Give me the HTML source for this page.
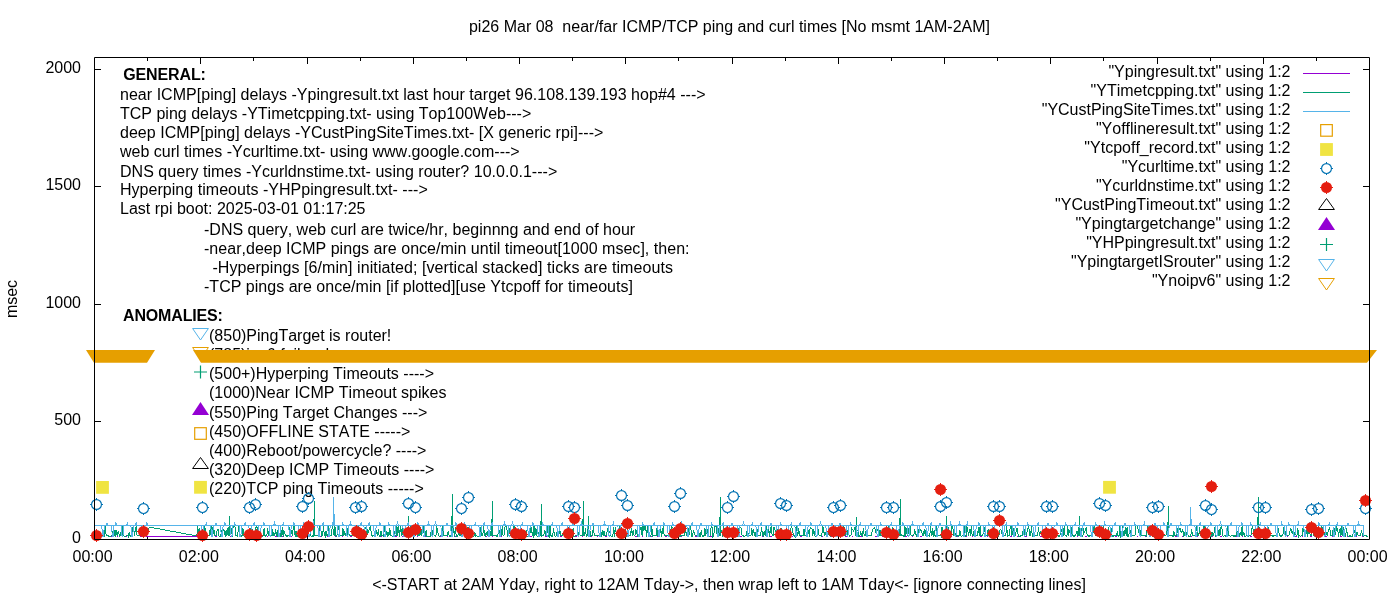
<!DOCTYPE html><html><head><meta charset="utf-8"><style>html,body{margin:0;padding:0;background:#fff;width:1400px;height:600px;overflow:hidden}svg{display:block;will-change:transform}text{font-family:"Liberation Sans",sans-serif;font-size:16px;font-kerning:none}</style></head><body>
<svg width="1400" height="600" viewBox="0 0 1400 600">
<rect width="1400" height="600" fill="#fff"/>
<g fill="#000">
<text x="729.5" y="32" text-anchor="middle" xml:space="preserve">pi26 Mar 08  near/far ICMP/TCP ping and curl times [No msmt 1AM-2AM]</text>
<text x="729" y="590" text-anchor="middle">&lt;-START at 2AM Yday, right to 12AM Tday-&gt;, then wrap left to 1AM Tday&lt;- [ignore connecting lines]</text>
<text transform="translate(16.5,299) rotate(-90)" text-anchor="middle">msec</text>
<text x="81" y="72.5" text-anchor="end">2000</text>
<text x="81" y="189.5" text-anchor="end">1500</text>
<text x="81" y="307.5" text-anchor="end">1000</text>
<text x="81" y="424.5" text-anchor="end">500</text>
<text x="81" y="542.5" text-anchor="end">0</text>
<text x="92.6" y="561.5" text-anchor="middle">00:00</text>
<text x="198.8" y="561.5" text-anchor="middle">02:00</text>
<text x="305.1" y="561.5" text-anchor="middle">04:00</text>
<text x="411.4" y="561.5" text-anchor="middle">06:00</text>
<text x="517.6" y="561.5" text-anchor="middle">08:00</text>
<text x="623.9" y="561.5" text-anchor="middle">10:00</text>
<text x="730.1" y="561.5" text-anchor="middle">12:00</text>
<text x="836.4" y="561.5" text-anchor="middle">14:00</text>
<text x="942.6" y="561.5" text-anchor="middle">16:00</text>
<text x="1048.8" y="561.5" text-anchor="middle">18:00</text>
<text x="1155.1" y="561.5" text-anchor="middle">20:00</text>
<text x="1261.3" y="561.5" text-anchor="middle">22:00</text>
<text x="1367.6" y="561.5" text-anchor="middle">00:00</text>
<text x="123.2" y="80" font-weight="bold" letter-spacing="-0.12">GENERAL:</text>
<text x="120" y="99.5" letter-spacing="0.033">near ICMP[ping] delays -Ypingresult.txt last hour target 96.108.139.193 hop#4 ---&gt;</text>
<text x="120" y="118.5">TCP ping delays -YTimetcpping.txt- using Top100Web---&gt;</text>
<text x="120" y="137.5" letter-spacing="0.028">deep ICMP[ping] delays -YCustPingSiteTimes.txt- [X generic rpi]---&gt;</text>
<text x="120" y="156.5">web curl times -Ycurltime.txt- using www.google.com---&gt;</text>
<text x="120" y="176.5" letter-spacing="0.033">DNS query times -Ycurldnstime.txt- using router? 10.0.0.1---&gt;</text>
<text x="120" y="195" letter-spacing="0.034">Hyperping timeouts -YHPpingresult.txt- ---&gt;</text>
<text x="120" y="214">Last rpi boot: 2025-03-01 01:17:25</text>
<text x="204" y="234.5" letter-spacing="0.012">-DNS query, web curl are twice/hr, beginnng and end of hour</text>
<text x="204" y="253.5" letter-spacing="0.026">-near,deep ICMP pings are once/min until timeout[1000 msec], then:</text>
<text x="212.4" y="272.5" letter-spacing="0.078">-Hyperpings [6/min] initiated; [vertical stacked] ticks are timeouts</text>
<text x="204" y="291.5" letter-spacing="0.02">-TCP pings are once/min [if plotted][use Ytcpoff for timeouts]</text>
<text x="123" y="321" font-weight="bold" letter-spacing="-0.16">ANOMALIES:</text>
<clipPath id="c785"><rect x="190" y="340" width="300" height="12"/></clipPath>
<text x="209" y="340.5">(850)PingTarget is router!</text>
<g clip-path="url(#c785)"><text x="209" y="359.5">(785)ipv6 fail</text><text x="320.2" y="359.5">d</text></g>
<text x="209" y="378.5">(500+)Hyperping Timeouts ----&gt;</text>
<text x="209" y="397.5">(1000)Near ICMP Timeout spikes</text>
<text x="209" y="418">(550)Ping Target Changes ---&gt;</text>
<text x="209" y="437">(450)OFFLINE STATE -----&gt;</text>
<text x="209" y="456">(400)Reboot/powercycle? ----&gt;</text>
<text x="209" y="475">(320)Deep ICMP Timeouts ----&gt;</text>
<text x="209" y="494">(220)TCP ping Timeouts -----&gt;</text>
<text x="1290.5" y="76.5" text-anchor="end">"Ypingresult.txt" using 1:2</text>
<text x="1290.5" y="95.5" text-anchor="end">"YTimetcpping.txt" using 1:2</text>
<text x="1290.5" y="114.5" text-anchor="end">"YCustPingSiteTimes.txt" using 1:2</text>
<text x="1290.5" y="133.5" text-anchor="end">"Yofflineresult.txt" using 1:2</text>
<text x="1290.5" y="152.5" text-anchor="end">"Ytcpoff_record.txt" using 1:2</text>
<text x="1290.5" y="171.5" text-anchor="end">"Ycurltime.txt" using 1:2</text>
<text x="1290.5" y="190.5" text-anchor="end">"Ycurldnstime.txt" using 1:2</text>
<text x="1290.5" y="209.5" text-anchor="end">"YCustPingTimeout.txt" using 1:2</text>
<text x="1290.5" y="228.5" text-anchor="end">"Ypingtargetchange" using 1:2</text>
<text x="1290.5" y="247.5" text-anchor="end">"YHPpingresult.txt" using 1:2</text>
<text x="1290.5" y="266.5" text-anchor="end">"YpingtargetISrouter" using 1:2</text>
<text x="1290.5" y="285.5" text-anchor="end">"Ynoipv6" using 1:2</text>
</g>
<path d="M94.5,69.5h6.5M1369.5,69.5h-6.5M94.5,186.5h6.5M1369.5,186.5h-6.5M94.5,304.5h6.5M1369.5,304.5h-6.5M94.5,421.5h6.5M1369.5,421.5h-6.5M147.5,539.5v-3.5M147.5,57.5v3.5M200.5,539.5v-6.5M200.5,57.5v6.5M253.5,539.5v-3.5M253.5,57.5v3.5M307.5,539.5v-6.5M307.5,57.5v6.5M360.5,539.5v-3.5M360.5,57.5v3.5M413.5,539.5v-6.5M413.5,57.5v6.5M466.5,539.5v-3.5M466.5,57.5v3.5M519.5,539.5v-6.5M519.5,57.5v6.5M572.5,539.5v-3.5M572.5,57.5v3.5M625.5,539.5v-6.5M625.5,57.5v6.5M678.5,539.5v-3.5M678.5,57.5v3.5M732.5,539.5v-6.5M732.5,57.5v6.5M785.5,539.5v-3.5M785.5,57.5v3.5M838.5,539.5v-6.5M838.5,57.5v6.5M891.5,539.5v-3.5M891.5,57.5v3.5M944.5,539.5v-6.5M944.5,57.5v6.5M997.5,539.5v-3.5M997.5,57.5v3.5M1050.5,539.5v-6.5M1050.5,57.5v6.5M1103.5,539.5v-3.5M1103.5,57.5v3.5M1157.5,539.5v-6.5M1157.5,57.5v6.5M1210.5,539.5v-3.5M1210.5,57.5v3.5M1263.5,539.5v-6.5M1263.5,57.5v6.5M1316.5,539.5v-3.5M1316.5,57.5v3.5" fill="none" stroke="#000" stroke-width="1"/>
<path d="M95.00,536.5 L95.89,536.5 L96.77,536.5 L97.66,536.5 L98.54,536.5 L99.43,536.5 L100.31,536.5 L101.20,536.5 L102.08,536.5 L102.97,536.5 L103.85,536.5 L104.74,536.5 L105.62,536.5 L106.51,536.5 L107.39,536.5 L108.28,536.5 L109.16,536.5 L110.05,536.5 L110.93,536.5 L111.82,536.5 L112.70,536.5 L113.59,536.5 L114.47,536.5 L115.36,536.5 L116.24,536.5 L117.13,536.5 L118.01,536.5 L118.90,536.5 L119.78,536.5 L120.67,536.5 L121.55,536.5 L122.44,536.5 L123.32,536.5 L124.21,536.5 L125.09,536.5 L125.98,536.5 L126.86,536.5 L127.75,536.5 L128.63,536.5 L129.52,536.5 L130.40,536.5 L131.29,536.5 L132.17,536.5 L133.06,536.5 L133.94,536.5 L134.83,536.5 L135.71,536.5 L136.60,536.5 L137.48,536.5 L138.37,536.5 L139.25,536.5 L140.14,536.5 L141.02,536.5 L141.91,536.5 L142.79,536.5 L143.68,536.5 L144.56,536.5 L145.45,536.5 L146.33,536.5 L147.22,536.5 L148.10,536.5 L148.12,536.5 L199.25,536.5 L200.13,536.5 L201.02,536.5 L201.90,536.5 L202.79,536.5 L203.67,536.5 L204.56,536.5 L205.44,536.5 L206.33,536.5 L207.21,536.5 L208.10,536.5 L208.98,536.5 L209.87,536.5 L210.75,536.5 L211.64,536.5 L212.52,536.5 L213.41,536.5 L214.29,536.5 L215.18,536.5 L216.06,536.5 L216.95,536.5 L217.83,536.5 L218.72,536.5 L219.60,536.5 L220.49,536.5 L221.37,536.5 L222.26,536.5 L223.14,536.5 L224.03,536.5 L224.91,536.5 L225.80,536.5 L226.68,536.5 L227.57,536.5 L228.45,536.5 L229.34,536.5 L230.22,536.5 L231.11,536.5 L231.99,536.5 L232.88,536.5 L233.76,536.5 L234.65,536.5 L235.53,536.5 L236.42,536.5 L237.30,536.5 L238.19,536.5 L239.07,536.5 L239.96,536.5 L240.84,536.5 L241.73,536.5 L242.61,536.5 L243.50,536.5 L244.38,536.5 L245.27,536.5 L246.15,536.5 L247.04,536.5 L247.92,536.5 L248.81,536.5 L249.69,536.5 L250.58,536.5 L251.46,536.5 L252.35,536.5 L253.23,536.5 L254.12,536.5 L255.00,536.5 L255.89,536.5 L256.77,536.5 L257.66,536.5 L258.54,536.5 L259.43,536.5 L260.31,536.5 L261.20,536.5 L262.08,536.5 L262.97,536.5 L263.85,536.5 L264.74,536.5 L265.62,536.5 L266.51,536.5 L267.39,536.5 L268.28,536.5 L269.16,536.5 L270.05,536.5 L270.93,536.5 L271.82,536.5 L272.70,536.5 L273.59,536.5 L274.47,536.5 L275.36,536.5 L276.24,536.5 L277.13,536.5 L278.01,536.5 L278.90,536.5 L279.78,536.5 L280.67,536.5 L281.55,536.5 L282.44,536.5 L283.32,536.5 L284.21,536.5 L285.09,536.5 L285.98,536.5 L286.86,536.5 L287.75,536.5 L288.63,536.5 L289.52,536.5 L290.40,536.5 L291.29,536.5 L292.17,536.5 L293.06,536.5 L293.94,536.5 L294.83,536.5 L295.71,536.5 L296.60,536.5 L297.48,536.5 L298.37,536.5 L299.25,536.5 L300.14,536.5 L301.02,536.5 L301.91,536.5 L302.79,536.5 L303.68,536.5 L304.56,536.5 L305.45,536.5 L306.33,536.5 L307.22,536.5 L308.10,536.5 L308.99,536.5 L309.87,536.5 L310.76,536.5 L311.64,536.5 L312.53,536.5 L313.41,536.5 L314.30,536.5 L315.18,536.5 L316.07,536.5 L316.95,536.5 L317.84,536.5 L318.72,536.5 L319.61,536.5 L320.49,536.5 L321.38,536.5 L322.26,536.5 L323.15,536.5 L324.03,536.5 L324.92,536.5 L325.80,536.5 L326.69,536.5 L327.57,536.5 L328.46,536.5 L329.34,536.5 L330.23,536.5 L331.11,536.5 L332.00,536.5 L332.88,536.5 L333.77,536.5 L334.65,536.5 L335.54,536.5 L336.42,536.5 L337.31,536.5 L338.19,536.5 L339.08,536.5 L339.96,536.5 L340.85,536.5 L341.73,536.5 L342.62,536.5 L343.50,536.5 L344.39,536.5 L345.27,536.5 L346.16,536.5 L347.04,536.5 L347.93,536.5 L348.81,536.5 L349.70,536.5 L350.58,536.5 L351.47,536.5 L352.35,536.5 L353.24,536.5 L354.12,536.5 L355.01,536.5 L355.89,536.5 L356.78,536.5 L357.66,536.5 L358.55,536.5 L359.43,536.5 L360.32,536.5 L361.20,536.5 L362.09,536.5 L362.97,536.5 L363.86,536.5 L364.74,536.5 L365.63,536.5 L366.51,536.5 L367.40,536.5 L368.28,536.5 L369.17,536.5 L370.05,536.5 L370.94,536.5 L371.82,536.5 L372.71,536.5 L373.59,536.5 L374.48,536.5 L375.36,536.5 L376.25,536.5 L377.13,536.5 L378.02,536.5 L378.90,536.5 L379.79,536.5 L380.67,536.5 L381.56,536.5 L382.44,536.5 L383.33,536.5 L384.21,536.5 L385.10,536.5 L385.98,536.5 L386.87,536.5 L387.75,536.5 L388.64,536.5 L389.52,536.5 L390.41,536.5 L391.29,536.5 L392.18,536.5 L393.06,536.5 L393.95,536.5 L394.83,536.5 L395.72,536.5 L396.60,536.5 L397.49,536.5 L398.37,536.5 L399.26,536.5 L400.14,536.5 L401.03,536.5 L401.91,536.5 L402.80,536.5 L403.68,536.5 L404.57,536.5 L405.45,536.5 L406.34,536.5 L407.22,536.5 L408.11,536.5 L408.99,536.5 L409.88,536.5 L410.76,536.5 L411.65,536.5 L412.53,536.5 L413.42,536.5 L414.30,536.5 L415.19,536.5 L416.07,536.5 L416.96,536.5 L417.84,536.5 L418.73,536.5 L419.61,536.5 L420.50,536.5 L421.38,536.5 L422.27,536.5 L423.15,536.5 L424.04,536.5 L424.92,536.5 L425.81,536.5 L426.69,536.5 L427.58,536.5 L428.46,536.5 L429.35,536.5 L430.23,536.5 L431.12,536.5 L432.00,536.5 L432.89,536.5 L433.77,536.5 L434.66,536.5 L435.54,536.5 L436.43,536.5 L437.31,536.5 L438.20,536.5 L439.08,536.5 L439.97,536.5 L440.85,536.5 L441.74,536.5 L442.62,536.5 L443.51,536.5 L444.39,536.5 L445.28,536.5 L446.16,536.5 L447.05,536.5 L447.93,536.5 L448.82,536.5 L449.70,536.5 L450.59,536.5 L451.47,536.5 L452.36,536.5 L453.24,536.5 L454.13,536.5 L455.01,536.5 L455.90,536.5 L456.78,536.5 L457.67,536.5 L458.55,536.5 L459.44,536.5 L460.32,536.5 L461.21,536.5 L462.09,536.5 L462.98,536.5 L463.86,536.5 L464.75,536.5 L465.63,536.5 L466.52,536.5 L467.40,536.5 L468.29,536.5 L469.17,536.5 L470.06,536.5 L470.94,536.5 L471.83,536.5 L472.71,536.5 L473.60,536.5 L474.48,536.5 L475.37,536.5 L476.25,536.5 L477.14,536.5 L478.02,536.5 L478.91,536.5 L479.79,536.5 L480.68,536.5 L481.56,536.5 L482.45,536.5 L483.33,536.5 L484.22,536.5 L485.10,536.5 L485.99,536.5 L486.87,536.5 L487.76,536.5 L488.64,536.5 L489.53,536.5 L490.41,536.5 L491.30,536.5 L492.18,536.5 L493.07,536.5 L493.95,536.5 L494.84,536.5 L495.72,536.5 L496.61,536.5 L497.49,536.5 L498.38,536.5 L499.26,536.5 L500.15,536.5 L501.03,536.5 L501.92,536.5 L502.80,536.5 L503.69,536.5 L504.57,536.5 L505.46,536.5 L506.34,536.5 L507.23,536.5 L508.11,536.5 L509.00,536.5 L509.88,536.5 L510.77,536.5 L511.65,536.5 L512.54,536.5 L513.42,536.5 L514.31,536.5 L515.19,536.5 L516.08,536.5 L516.96,536.5 L517.85,536.5 L518.73,536.5 L519.62,536.5 L520.50,536.5 L521.39,536.5 L522.27,536.5 L523.16,536.5 L524.04,536.5 L524.93,536.5 L525.81,536.5 L526.70,536.5 L527.58,536.5 L528.47,536.5 L529.35,536.5 L530.24,536.5 L531.12,536.5 L532.01,536.5 L532.89,536.5 L533.78,536.5 L534.66,536.5 L535.55,536.5 L536.43,536.5 L537.32,536.5 L538.20,536.5 L539.09,536.5 L539.97,536.5 L540.86,536.5 L541.74,536.5 L542.63,536.5 L543.51,536.5 L544.40,536.5 L545.28,536.5 L546.17,536.5 L547.05,536.5 L547.94,536.5 L548.82,536.5 L549.71,536.5 L550.59,536.5 L551.48,536.5 L552.36,536.5 L553.25,536.5 L554.13,536.5 L555.02,536.5 L555.90,536.5 L556.79,536.5 L557.67,536.5 L558.56,536.5 L559.44,536.5 L560.33,536.5 L561.21,536.5 L562.10,536.5 L562.98,536.5 L563.87,536.5 L564.75,536.5 L565.64,536.5 L566.52,536.5 L567.41,536.5 L568.29,536.5 L569.18,536.5 L570.06,536.5 L570.95,536.5 L571.83,536.5 L572.72,536.5 L573.60,536.5 L574.49,536.5 L575.37,536.5 L576.26,536.5 L577.14,536.5 L578.03,536.5 L578.91,536.5 L579.80,536.5 L580.68,536.5 L581.57,536.5 L582.45,536.5 L583.34,536.5 L584.22,536.5 L585.11,536.5 L585.99,536.5 L586.88,536.5 L587.76,536.5 L588.65,536.5 L589.53,536.5 L590.42,536.5 L591.30,536.5 L592.19,536.5 L593.07,536.5 L593.96,536.5 L594.84,536.5 L595.73,536.5 L596.61,536.5 L597.50,536.5 L598.38,536.5 L599.27,536.5 L600.15,536.5 L601.04,536.5 L601.92,536.5 L602.81,536.5 L603.69,536.5 L604.58,536.5 L605.46,536.5 L606.35,536.5 L607.23,536.5 L608.12,536.5 L609.00,536.5 L609.89,536.5 L610.77,536.5 L611.66,536.5 L612.54,536.5 L613.43,536.5 L614.31,536.5 L615.20,536.5 L616.08,536.5 L616.97,536.5 L617.85,536.5 L618.74,536.5 L619.62,536.5 L620.51,536.5 L621.39,536.5 L622.28,536.5 L623.16,536.5 L624.05,536.5 L624.93,536.5 L625.82,536.5 L626.70,536.5 L627.59,536.5 L628.47,536.5 L629.36,536.5 L630.24,536.5 L631.13,536.5 L632.01,536.5 L632.90,536.5 L633.78,536.5 L634.67,536.5 L635.55,536.5 L636.44,536.5 L637.32,536.5 L638.21,536.5 L639.09,536.5 L639.98,536.5 L640.86,536.5 L641.75,536.5 L642.63,536.5 L643.52,536.5 L644.40,536.5 L645.29,536.5 L646.17,536.5 L647.06,536.5 L647.94,536.5 L648.83,536.5 L649.71,536.5 L650.60,536.5 L651.48,536.5 L652.37,536.5 L653.25,536.5 L654.14,536.5 L655.02,536.5 L655.91,536.5 L656.79,536.5 L657.68,536.5 L658.56,536.5 L659.45,536.5 L660.33,536.5 L661.22,536.5 L662.10,536.5 L662.99,536.5 L663.87,536.5 L664.76,536.5 L665.64,536.5 L666.53,536.5 L667.41,536.5 L668.30,536.5 L669.18,536.5 L670.07,536.5 L670.95,536.5 L671.84,536.5 L672.72,536.5 L673.61,536.5 L674.49,536.5 L675.38,536.5 L676.26,536.5 L677.15,536.5 L678.03,536.5 L678.92,536.5 L679.80,536.5 L680.69,536.5 L681.57,536.5 L682.46,536.5 L683.34,536.5 L684.23,536.5 L685.11,536.5 L686.00,536.5 L686.88,536.5 L687.77,536.5 L688.65,536.5 L689.54,536.5 L690.42,536.5 L691.31,536.5 L692.19,536.5 L693.08,536.5 L693.96,536.5 L694.85,536.5 L695.73,536.5 L696.62,536.5 L697.50,536.5 L698.39,536.5 L699.27,536.5 L700.16,536.5 L701.04,536.5 L701.93,536.5 L702.81,536.5 L703.70,536.5 L704.58,536.5 L705.47,536.5 L706.35,536.5 L707.24,536.5 L708.12,536.5 L709.01,536.5 L709.89,536.5 L710.78,536.5 L711.66,536.5 L712.55,536.5 L713.43,536.5 L714.32,536.5 L715.20,536.5 L716.09,536.5 L716.97,536.5 L717.86,536.5 L718.74,536.5 L719.63,536.5 L720.51,536.5 L721.40,536.5 L722.28,536.5 L723.17,536.5 L724.05,536.5 L724.94,536.5 L725.82,536.5 L726.71,536.5 L727.59,536.5 L728.48,536.5 L729.36,536.5 L730.25,536.5 L731.13,536.5 L732.02,536.5 L732.90,536.5 L733.79,536.5 L734.67,536.5 L735.56,536.5 L736.44,536.5 L737.33,536.5 L738.21,536.5 L739.10,536.5 L739.98,536.5 L740.87,536.5 L741.75,536.5 L742.64,536.5 L743.52,536.5 L744.41,536.5 L745.29,536.5 L746.18,536.5 L747.06,536.5 L747.95,536.5 L748.83,536.5 L749.72,536.5 L750.60,536.5 L751.49,536.5 L752.37,536.5 L753.26,536.5 L754.14,536.5 L755.03,536.5 L755.91,536.5 L756.80,536.5 L757.68,536.5 L758.57,536.5 L759.45,536.5 L760.34,536.5 L761.22,536.5 L762.11,536.5 L762.99,536.5 L763.88,536.5 L764.76,536.5 L765.65,536.5 L766.53,536.5 L767.42,536.5 L768.30,536.5 L769.19,536.5 L770.07,536.5 L770.96,536.5 L771.84,536.5 L772.73,536.5 L773.61,536.5 L774.50,536.5 L775.38,536.5 L776.27,536.5 L777.15,536.5 L778.04,536.5 L778.92,536.5 L779.81,536.5 L780.69,536.5 L781.58,536.5 L782.46,536.5 L783.35,536.5 L784.23,536.5 L785.12,536.5 L786.00,536.5 L786.89,536.5 L787.77,536.5 L788.66,536.5 L789.54,536.5 L790.43,536.5 L791.31,536.5 L792.20,536.5 L793.08,536.5 L793.97,536.5 L794.85,536.5 L795.74,536.5 L796.62,536.5 L797.51,536.5 L798.39,536.5 L799.28,536.5 L800.16,536.5 L801.05,536.5 L801.93,536.5 L802.82,536.5 L803.70,536.5 L804.59,536.5 L805.47,536.5 L806.36,536.5 L807.24,536.5 L808.13,536.5 L809.01,536.5 L809.90,536.5 L810.78,536.5 L811.67,536.5 L812.55,536.5 L813.44,536.5 L814.32,536.5 L815.21,536.5 L816.09,536.5 L816.98,536.5 L817.86,536.5 L818.75,536.5 L819.63,536.5 L820.52,536.5 L821.40,536.5 L822.29,536.5 L823.17,536.5 L824.06,536.5 L824.94,536.5 L825.83,536.5 L826.71,536.5 L827.60,536.5 L828.48,536.5 L829.37,536.5 L830.25,536.5 L831.14,536.5 L832.02,536.5 L832.91,536.5 L833.79,536.5 L834.68,536.5 L835.56,536.5 L836.45,536.5 L837.33,536.5 L838.22,536.5 L839.10,536.5 L839.99,536.5 L840.87,536.5 L841.76,536.5 L842.64,536.5 L843.53,536.5 L844.41,536.5 L845.30,536.5 L846.18,536.5 L847.07,536.5 L847.95,536.5 L848.84,536.5 L849.72,536.5 L850.61,536.5 L851.49,536.5 L852.38,536.5 L853.26,536.5 L854.15,536.5 L855.03,536.5 L855.92,536.5 L856.80,536.5 L857.69,536.5 L858.57,536.5 L859.46,536.5 L860.34,536.5 L861.23,536.5 L862.11,536.5 L863.00,536.5 L863.88,536.5 L864.77,536.5 L865.65,536.5 L866.54,536.5 L867.42,536.5 L868.31,536.5 L869.19,536.5 L870.08,536.5 L870.96,536.5 L871.85,536.5 L872.73,536.5 L873.62,536.5 L874.50,536.5 L875.39,536.5 L876.27,536.5 L877.16,536.5 L878.04,536.5 L878.93,536.5 L879.81,536.5 L880.70,536.5 L881.58,536.5 L882.47,536.5 L883.35,536.5 L884.24,536.5 L885.12,536.5 L886.01,536.5 L886.89,536.5 L887.78,536.5 L888.66,536.5 L889.55,536.5 L890.43,536.5 L891.32,536.5 L892.20,536.5 L893.09,536.5 L893.97,536.5 L894.86,536.5 L895.74,536.5 L896.63,536.5 L897.51,536.5 L898.40,536.5 L899.28,536.5 L900.17,536.5 L901.05,536.5 L901.94,536.5 L902.82,536.5 L903.71,536.5 L904.59,536.5 L905.48,536.5 L906.36,536.5 L907.25,536.5 L908.13,536.5 L909.02,536.5 L909.90,536.5 L910.79,536.5 L911.67,536.5 L912.56,536.5 L913.44,536.5 L914.33,536.5 L915.21,536.5 L916.10,536.5 L916.98,536.5 L917.87,536.5 L918.75,536.5 L919.64,536.5 L920.52,536.5 L921.41,536.5 L922.29,536.5 L923.18,536.5 L924.06,536.5 L924.95,536.5 L925.83,536.5 L926.72,536.5 L927.60,536.5 L928.49,536.5 L929.37,536.5 L930.26,536.5 L931.14,536.5 L932.03,536.5 L932.91,536.5 L933.80,536.5 L934.68,536.5 L935.57,536.5 L936.45,536.5 L937.34,536.5 L938.22,536.5 L939.11,536.5 L939.99,536.5 L940.88,536.5 L941.76,536.5 L942.65,536.5 L943.53,536.5 L944.42,536.5 L945.30,536.5 L946.19,536.5 L947.07,536.5 L947.96,536.5 L948.84,536.5 L949.73,536.5 L950.61,536.5 L951.50,536.5 L952.38,536.5 L953.27,536.5 L954.15,536.5 L955.04,536.5 L955.92,536.5 L956.81,536.5 L957.69,536.5 L958.58,536.5 L959.46,536.5 L960.35,536.5 L961.23,536.5 L962.12,536.5 L963.00,536.5 L963.89,536.5 L964.77,536.5 L965.66,536.5 L966.54,536.5 L967.43,536.5 L968.31,536.5 L969.20,536.5 L970.08,536.5 L970.97,536.5 L971.85,536.5 L972.74,536.5 L973.62,536.5 L974.51,536.5 L975.39,536.5 L976.28,536.5 L977.16,536.5 L978.05,536.5 L978.93,536.5 L979.82,536.5 L980.70,536.5 L981.59,536.5 L982.47,536.5 L983.36,536.5 L984.24,536.5 L985.13,536.5 L986.01,536.5 L986.90,536.5 L987.78,536.5 L988.67,536.5 L989.55,536.5 L990.44,536.5 L991.32,536.5 L992.21,536.5 L993.09,536.5 L993.98,536.5 L994.86,536.5 L995.75,536.5 L996.63,536.5 L997.52,536.5 L998.40,536.5 L999.29,536.5 L1000.17,536.5 L1001.06,536.5 L1001.94,536.5 L1002.83,536.5 L1003.71,536.5 L1004.60,536.5 L1005.48,536.5 L1006.37,536.5 L1007.25,536.5 L1008.14,536.5 L1009.02,536.5 L1009.91,536.5 L1010.79,536.5 L1011.68,536.5 L1012.56,536.5 L1013.45,536.5 L1014.33,536.5 L1015.22,536.5 L1016.10,536.5 L1016.99,536.5 L1017.87,536.5 L1018.76,536.5 L1019.64,536.5 L1020.53,536.5 L1021.41,536.5 L1022.30,536.5 L1023.18,536.5 L1024.07,536.5 L1024.95,536.5 L1025.84,536.5 L1026.72,536.5 L1027.61,536.5 L1028.49,536.5 L1029.38,536.5 L1030.26,536.5 L1031.15,536.5 L1032.03,536.5 L1032.92,536.5 L1033.80,536.5 L1034.69,536.5 L1035.57,536.5 L1036.46,536.5 L1037.34,536.5 L1038.23,536.5 L1039.11,536.5 L1040.00,536.5 L1040.88,536.5 L1041.77,536.5 L1042.65,536.5 L1043.54,536.5 L1044.42,536.5 L1045.31,536.5 L1046.19,536.5 L1047.08,536.5 L1047.96,536.5 L1048.85,536.5 L1049.73,536.5 L1050.62,536.5 L1051.50,536.5 L1052.39,536.5 L1053.27,536.5 L1054.16,536.5 L1055.04,536.5 L1055.93,536.5 L1056.81,536.5 L1057.70,536.5 L1058.58,536.5 L1059.47,536.5 L1060.35,536.5 L1061.24,536.5 L1062.12,536.5 L1063.01,536.5 L1063.89,536.5 L1064.78,536.5 L1065.66,536.5 L1066.55,536.5 L1067.43,536.5 L1068.32,536.5 L1069.20,536.5 L1070.09,536.5 L1070.97,536.5 L1071.86,536.5 L1072.74,536.5 L1073.63,536.5 L1074.51,536.5 L1075.40,536.5 L1076.28,536.5 L1077.17,536.5 L1078.05,536.5 L1078.94,536.5 L1079.82,536.5 L1080.71,536.5 L1081.59,536.5 L1082.48,536.5 L1083.36,536.5 L1084.25,536.5 L1085.13,536.5 L1086.02,536.5 L1086.90,536.5 L1087.79,536.5 L1088.67,536.5 L1089.56,536.5 L1090.44,536.5 L1091.33,536.5 L1092.21,536.5 L1093.10,536.5 L1093.98,536.5 L1094.87,536.5 L1095.75,536.5 L1096.64,536.5 L1097.52,536.5 L1098.41,536.5 L1099.29,536.5 L1100.18,536.5 L1101.06,536.5 L1101.95,536.5 L1102.83,536.5 L1103.72,536.5 L1104.60,536.5 L1105.49,536.5 L1106.37,536.5 L1107.26,536.5 L1108.14,536.5 L1109.03,536.5 L1109.91,536.5 L1110.80,536.5 L1111.68,536.5 L1112.57,536.5 L1113.45,536.5 L1114.34,536.5 L1115.22,536.5 L1116.11,536.5 L1116.99,536.5 L1117.88,536.5 L1118.76,536.5 L1119.65,536.5 L1120.53,536.5 L1121.42,536.5 L1122.30,536.5 L1123.19,536.5 L1124.07,536.5 L1124.96,536.5 L1125.84,536.5 L1126.73,536.5 L1127.61,536.5 L1128.50,536.5 L1129.38,536.5 L1130.27,536.5 L1131.15,536.5 L1132.04,536.5 L1132.92,536.5 L1133.81,536.5 L1134.69,536.5 L1135.58,536.5 L1136.46,536.5 L1137.35,536.5 L1138.23,536.5 L1139.12,536.5 L1140.00,536.5 L1140.89,536.5 L1141.77,536.5 L1142.66,536.5 L1143.54,536.5 L1144.43,536.5 L1145.31,536.5 L1146.20,536.5 L1147.08,536.5 L1147.97,536.5 L1148.85,536.5 L1149.74,536.5 L1150.62,536.5 L1151.51,536.5 L1152.39,536.5 L1153.28,536.5 L1154.16,536.5 L1155.05,536.5 L1155.93,536.5 L1156.82,536.5 L1157.70,536.5 L1158.59,536.5 L1159.47,536.5 L1160.36,536.5 L1161.24,536.5 L1162.13,536.5 L1163.01,536.5 L1163.90,536.5 L1164.78,536.5 L1165.67,536.5 L1166.55,536.5 L1167.44,536.5 L1168.32,536.5 L1169.21,536.5 L1170.09,536.5 L1170.98,536.5 L1171.86,536.5 L1172.75,536.5 L1173.63,536.5 L1174.52,536.5 L1175.40,536.5 L1176.29,536.5 L1177.17,536.5 L1178.06,536.5 L1178.94,536.5 L1179.83,536.5 L1180.71,536.5 L1181.60,536.5 L1182.48,536.5 L1183.37,536.5 L1184.25,536.5 L1185.14,536.5 L1186.02,536.5 L1186.91,536.5 L1187.79,536.5 L1188.68,536.5 L1189.56,536.5 L1190.45,536.5 L1191.33,536.5 L1192.22,536.5 L1193.10,536.5 L1193.99,536.5 L1194.87,536.5 L1195.76,536.5 L1196.64,536.5 L1197.53,536.5 L1198.41,536.5 L1199.30,536.5 L1200.18,536.5 L1201.07,536.5 L1201.95,536.5 L1202.84,536.5 L1203.72,536.5 L1204.61,536.5 L1205.49,536.5 L1206.38,536.5 L1207.26,536.5 L1208.15,536.5 L1209.03,536.5 L1209.92,536.5 L1210.80,536.5 L1211.69,536.5 L1212.57,536.5 L1213.46,536.5 L1214.34,536.5 L1215.23,536.5 L1216.11,536.5 L1217.00,536.5 L1217.88,536.5 L1218.77,536.5 L1219.65,536.5 L1220.54,536.5 L1221.42,536.5 L1222.31,536.5 L1223.19,536.5 L1224.08,536.5 L1224.96,536.5 L1225.85,536.5 L1226.73,536.5 L1227.62,536.5 L1228.50,536.5 L1229.39,536.5 L1230.27,536.5 L1231.16,536.5 L1232.04,536.5 L1232.93,536.5 L1233.81,536.5 L1234.70,536.5 L1235.58,536.5 L1236.47,536.5 L1237.35,536.5 L1238.24,536.5 L1239.12,536.5 L1240.01,536.5 L1240.89,536.5 L1241.78,536.5 L1242.66,536.5 L1243.55,536.5 L1244.43,536.5 L1245.32,536.5 L1246.20,536.5 L1247.09,536.5 L1247.97,536.5 L1248.86,536.5 L1249.74,536.5 L1250.63,536.5 L1251.51,536.5 L1252.40,536.5 L1253.28,536.5 L1254.17,536.5 L1255.05,536.5 L1255.94,536.5 L1256.82,536.5 L1257.71,536.5 L1258.59,536.5 L1259.48,536.5 L1260.36,536.5 L1261.25,536.5 L1262.13,536.5 L1263.02,536.5 L1263.90,536.5 L1264.79,536.5 L1265.67,536.5 L1266.56,536.5 L1267.44,536.5 L1268.33,536.5 L1269.21,536.5 L1270.10,536.5 L1270.98,536.5 L1271.87,536.5 L1272.75,536.5 L1273.64,536.5 L1274.52,536.5 L1275.41,536.5 L1276.29,536.5 L1277.18,536.5 L1278.06,536.5 L1278.95,536.5 L1279.83,536.5 L1280.72,536.5 L1281.60,536.5 L1282.49,536.5 L1283.37,536.5 L1284.26,536.5 L1285.14,536.5 L1286.03,536.5 L1286.91,536.5 L1287.80,536.5 L1288.68,536.5 L1289.57,536.5 L1290.45,536.5 L1291.34,536.5 L1292.22,536.5 L1293.11,536.5 L1293.99,536.5 L1294.88,536.5 L1295.76,536.5 L1296.65,536.5 L1297.53,536.5 L1298.42,536.5 L1299.30,536.5 L1300.19,536.5 L1301.07,536.5 L1301.96,536.5 L1302.84,536.5 L1303.73,536.5 L1304.61,536.5 L1305.50,536.5 L1306.38,536.5 L1307.27,536.5 L1308.15,536.5 L1309.04,536.5 L1309.92,536.5 L1310.81,536.5 L1311.69,536.5 L1312.58,536.5 L1313.46,536.5 L1314.35,536.5 L1315.23,536.5 L1316.12,536.5 L1317.00,536.5 L1317.89,536.5 L1318.77,536.5 L1319.66,536.5 L1320.54,536.5 L1321.43,536.5 L1322.31,536.5 L1323.20,536.5 L1324.08,536.5 L1324.97,536.5 L1325.85,536.5 L1326.74,536.5 L1327.62,536.5 L1328.51,536.5 L1329.39,536.5 L1330.28,536.5 L1331.16,536.5 L1332.05,536.5 L1332.93,536.5 L1333.82,536.5 L1334.70,536.5 L1335.59,536.5 L1336.47,536.5 L1337.36,536.5 L1338.24,536.5 L1339.13,536.5 L1340.01,536.5 L1340.90,536.5 L1341.78,536.5 L1342.67,536.5 L1343.55,536.5 L1344.44,536.5 L1345.32,536.5 L1346.21,536.5 L1347.09,536.5 L1347.98,536.5 L1348.86,536.5 L1349.75,536.5 L1350.63,536.5 L1351.52,536.5 L1352.40,536.5 L1353.29,536.5 L1354.17,536.5 L1355.06,536.5 L1355.94,536.5 L1356.83,536.5 L1357.71,536.5 L1358.60,536.5 L1359.48,536.5 L1360.37,536.5 L1361.25,536.5 L1362.14,536.5 L1363.02,536.5 L1363.91,536.5 L1364.79,536.5 L1365.68,536.5 L1366.56,536.5 L1367.45,536.5" fill="none" stroke="#9400d3" stroke-width="1" stroke-dasharray="2 5 1 7" shape-rendering="crispEdges"/>
<path d="M146.125,536.5H201.25" stroke="#9400d3" stroke-width="1" shape-rendering="crispEdges"/>
<path d="M95.50,535.5 L96.39,535.5 L97.27,536.5 L98.16,536.5 L99.04,536.5 L99.93,535.5 L100.81,535.5 L101.70,536.5 L102.58,536.5 L103.47,535.5 L104.35,536.5 L105.24,525.9 L106.12,535.5 L107.01,535.5 L107.89,535.5 L108.78,536.5 L109.66,536.5 L110.55,536.5 L111.43,535.5 L112.32,536.5 L113.20,529.1 L114.09,535.5 L114.97,529.9 L115.86,536.5 L116.74,530.3 L117.63,535.5 L118.51,531.0 L119.40,536.5 L120.28,535.5 L121.17,530.8 L122.05,526.4 L122.94,535.5 L123.82,535.5 L124.71,536.5 L125.59,536.5 L126.48,535.5 L127.36,535.5 L128.25,536.5 L129.13,532.1 L130.02,535.5 L130.90,536.5 L131.79,536.5 L132.67,528.6 L133.56,525.7 L134.44,535.5 L135.33,530.4 L136.21,526.1 L137.10,535.5 L137.98,535.5 L138.87,535.5 L139.75,535.5 L140.64,535.5 L141.52,535.5 L142.41,527.6 L143.29,530.8 L144.18,535.5 L145.06,530.2 L145.94,535.5 L146.83,535.5 L147.71,532.4 L148.60,531.4 L149.12,527.0 L194.25,535.5 L195.13,535.5 L196.02,535.5 L196.90,535.5 L197.79,525.8 L198.67,536.5 L199.56,528.1 L200.44,536.5 L201.33,530.1 L202.21,535.5 L203.10,535.5 L203.98,535.5 L204.87,526.1 L205.75,536.5 L206.64,535.5 L207.52,536.5 L208.41,535.5 L209.29,535.5 L210.18,528.8 L211.06,535.5 L211.95,525.9 L212.83,535.5 L213.72,526.5 L214.60,535.5 L215.49,535.5 L216.37,535.5 L217.26,529.6 L218.14,529.4 L219.03,536.5 L219.91,536.5 L220.80,535.5 L221.68,530.7 L222.57,532.0 L223.45,529.4 L224.34,530.4 L225.22,536.5 L226.11,530.5 L226.99,535.5 L227.88,527.6 L228.76,531.1 L229.65,535.5 L230.53,526.6 L231.42,529.7 L232.30,536.5 L233.19,526.1 L234.07,525.5 L234.96,526.1 L235.84,535.5 L236.73,535.5 L237.61,536.5 L238.50,525.9 L239.38,536.5 L240.27,536.5 L241.15,536.5 L242.04,535.5 L242.92,528.0 L243.81,535.5 L244.69,536.5 L245.58,536.5 L246.46,535.5 L247.35,532.0 L248.23,535.5 L249.12,536.5 L250.00,527.7 L250.89,536.5 L251.77,525.8 L252.66,536.5 L253.54,535.5 L254.43,536.5 L255.31,529.3 L256.20,526.1 L257.08,527.5 L257.97,535.5 L258.85,536.5 L259.74,536.5 L260.62,536.5 L261.51,535.5 L262.39,536.5 L263.28,535.5 L264.16,527.6 L265.05,536.5 L265.93,535.5 L266.82,535.5 L267.70,527.8 L268.59,535.5 L269.47,535.5 L270.36,535.5 L271.24,535.5 L272.13,529.3 L273.01,535.5 L273.90,532.2 L274.78,535.5 L275.67,529.5 L276.55,535.5 L277.44,536.5 L278.32,525.9 L279.21,535.5 L280.09,536.5 L280.98,529.5 L281.86,536.5 L282.75,526.8 L283.63,536.5 L284.52,531.3 L285.40,535.5 L286.29,535.5 L287.17,536.5 L288.06,535.5 L288.94,535.5 L289.83,527.1 L290.71,536.5 L291.60,530.3 L292.48,535.5 L293.37,526.3 L294.25,526.1 L295.14,536.5 L296.02,531.5 L296.91,536.5 L297.79,535.5 L298.68,535.5 L299.56,535.5 L300.45,536.5 L301.33,536.5 L302.22,535.5 L303.10,535.5 L303.99,535.5 L304.87,535.5 L305.76,526.4 L306.64,535.5 L307.53,531.4 L308.41,527.6 L309.30,528.4 L310.18,526.1 L311.07,536.5 L311.95,536.5 L312.84,535.5 L313.72,536.5 L314.61,535.5 L315.49,535.5 L316.38,535.5 L317.26,535.5 L318.15,535.5 L319.03,535.5 L319.92,526.1 L320.80,528.8 L321.69,536.5 L322.57,535.5 L323.46,526.2 L324.34,535.5 L325.23,536.5 L326.11,530.8 L327.00,535.5 L327.88,535.5 L328.77,526.5 L329.65,536.5 L330.54,535.5 L331.42,535.5 L332.31,526.4 L333.19,529.9 L334.08,535.5 L334.96,526.2 L335.85,535.5 L336.73,536.5 L337.62,531.7 L338.50,525.5 L339.39,532.4 L340.27,535.5 L341.16,535.5 L342.04,535.5 L342.93,528.5 L343.81,535.5 L344.70,532.2 L345.58,535.5 L346.47,535.5 L347.35,535.5 L348.24,526.0 L349.12,535.5 L350.01,535.5 L350.89,535.5 L351.78,535.5 L352.66,535.5 L353.55,535.5 L354.43,535.5 L355.32,536.5 L356.20,535.5 L357.09,536.5 L357.97,536.5 L358.86,525.6 L359.74,536.5 L360.63,528.9 L361.51,528.2 L362.40,535.5 L363.28,528.6 L364.17,536.5 L365.05,528.7 L365.94,527.6 L366.82,536.5 L367.71,529.1 L368.59,532.4 L369.48,527.7 L370.36,526.8 L371.25,532.0 L372.13,536.5 L373.02,535.5 L373.90,535.5 L374.79,536.5 L375.67,536.5 L376.56,529.6 L377.44,535.5 L378.33,529.5 L379.21,536.5 L380.10,536.5 L380.98,531.0 L381.87,535.5 L382.75,535.5 L383.64,536.5 L384.52,526.0 L385.41,535.5 L386.29,530.8 L387.18,536.5 L388.06,532.0 L388.95,535.5 L389.83,528.3 L390.72,535.5 L391.60,535.5 L392.49,536.5 L393.37,535.5 L394.26,530.8 L395.14,535.5 L396.03,535.5 L396.91,526.0 L397.80,535.5 L398.68,526.5 L399.57,536.5 L400.45,526.1 L401.34,535.5 L402.22,526.9 L403.11,535.5 L403.99,536.5 L404.88,535.5 L405.76,536.5 L406.65,535.5 L407.53,531.1 L408.42,529.6 L409.30,535.5 L410.19,525.8 L411.07,536.5 L411.96,535.5 L412.84,535.5 L413.73,532.5 L414.61,527.5 L415.50,535.5 L416.38,527.1 L417.27,535.5 L418.15,535.5 L419.04,525.9 L419.92,535.5 L420.81,527.4 L421.69,535.5 L422.58,530.8 L423.46,526.3 L424.35,536.5 L425.23,535.5 L426.12,529.9 L427.00,536.5 L427.89,536.5 L428.77,536.5 L429.66,536.5 L430.54,536.5 L431.43,528.6 L432.31,535.5 L433.20,529.2 L434.08,535.5 L434.97,535.5 L435.85,536.5 L436.74,526.2 L437.62,530.7 L438.51,535.5 L439.39,536.5 L440.28,535.5 L441.16,535.5 L442.05,535.5 L442.93,526.5 L443.82,535.5 L444.70,535.5 L445.59,535.5 L446.47,535.5 L447.36,535.5 L448.24,531.3 L449.13,535.5 L450.01,536.5 L450.90,535.5 L451.78,535.5 L452.67,536.5 L453.55,526.4 L454.44,536.5 L455.32,527.4 L456.21,535.5 L457.09,536.5 L457.98,535.5 L458.86,527.3 L459.75,535.5 L460.63,535.5 L461.52,526.0 L462.40,536.5 L463.29,526.7 L464.17,535.5 L465.06,535.5 L465.94,536.5 L466.83,536.5 L467.71,527.4 L468.60,532.0 L469.48,532.5 L470.37,536.5 L471.25,528.6 L472.14,535.5 L473.02,536.5 L473.91,536.5 L474.79,531.9 L475.68,536.5 L476.56,535.5 L477.45,536.5 L478.33,536.5 L479.22,535.5 L480.10,535.5 L480.99,527.2 L481.87,535.5 L482.76,535.5 L483.64,525.8 L484.53,535.5 L485.41,536.5 L486.30,532.0 L487.18,535.5 L488.07,531.1 L488.95,535.5 L489.84,530.3 L490.72,535.5 L491.61,528.1 L492.49,535.5 L493.38,535.5 L494.26,535.5 L495.15,535.5 L496.03,535.5 L496.92,536.5 L497.80,535.5 L498.69,529.6 L499.57,532.2 L500.46,535.5 L501.34,535.5 L502.23,526.4 L503.11,535.5 L504.00,535.5 L504.88,527.2 L505.77,526.5 L506.65,526.2 L507.54,536.5 L508.42,532.3 L509.31,530.2 L510.19,535.5 L511.08,535.5 L511.96,535.5 L512.85,535.5 L513.73,526.4 L514.62,526.3 L515.50,535.5 L516.39,529.9 L517.27,535.5 L518.16,536.5 L519.04,531.3 L519.93,535.5 L520.81,535.5 L521.70,536.5 L522.58,532.3 L523.47,535.5 L524.35,532.1 L525.24,535.5 L526.12,530.5 L527.01,536.5 L527.89,536.5 L528.78,530.6 L529.66,535.5 L530.55,528.9 L531.43,526.8 L532.32,535.5 L533.20,536.5 L534.09,525.5 L534.97,535.5 L535.86,527.6 L536.74,535.5 L537.63,536.5 L538.51,536.5 L539.40,528.9 L540.28,535.5 L541.17,536.5 L542.05,535.5 L542.94,535.5 L543.82,535.5 L544.71,529.6 L545.59,535.5 L546.48,525.6 L547.36,526.2 L548.25,535.5 L549.13,536.5 L550.02,526.3 L550.90,535.5 L551.79,536.5 L552.67,536.5 L553.56,528.5 L554.44,535.5 L555.33,536.5 L556.21,535.5 L557.10,531.3 L557.98,535.5 L558.87,535.5 L559.75,529.0 L560.64,535.5 L561.52,535.5 L562.41,535.5 L563.29,531.9 L564.18,535.5 L565.06,535.5 L565.95,531.1 L566.83,535.5 L567.72,535.5 L568.60,535.5 L569.49,536.5 L570.37,535.5 L571.26,535.5 L572.14,535.5 L573.03,528.5 L573.91,536.5 L574.80,536.5 L575.68,535.5 L576.57,535.5 L577.45,535.5 L578.34,536.5 L579.22,531.3 L580.11,535.5 L580.99,535.5 L581.88,535.5 L582.76,535.5 L583.65,529.2 L584.53,535.5 L585.42,528.5 L586.30,536.5 L587.19,535.5 L588.07,535.5 L588.96,535.5 L589.84,530.0 L590.73,536.5 L591.61,535.5 L592.50,535.5 L593.38,526.5 L594.27,535.5 L595.15,535.5 L596.04,535.5 L596.92,535.5 L597.81,535.5 L598.69,535.5 L599.58,535.5 L600.46,535.5 L601.35,536.5 L602.23,530.1 L603.12,535.5 L604.00,531.5 L604.89,535.5 L605.77,535.5 L606.66,535.5 L607.54,527.7 L608.43,530.7 L609.31,532.2 L610.20,530.6 L611.08,536.5 L611.97,536.5 L612.85,535.5 L613.74,527.4 L614.62,536.5 L615.51,527.5 L616.39,535.5 L617.28,536.5 L618.16,535.5 L619.05,535.5 L619.93,525.7 L620.82,536.5 L621.70,528.5 L622.59,530.6 L623.47,535.5 L624.36,536.5 L625.24,528.6 L626.13,535.5 L627.01,536.5 L627.90,536.5 L628.78,535.5 L629.67,535.5 L630.55,535.5 L631.44,527.8 L632.32,535.5 L633.21,530.1 L634.09,535.5 L634.98,535.5 L635.86,529.5 L636.75,532.3 L637.63,536.5 L638.52,536.5 L639.40,535.5 L640.29,527.1 L641.17,527.8 L642.06,535.5 L642.94,525.8 L643.83,531.3 L644.71,526.0 L645.60,525.6 L646.48,536.5 L647.37,526.4 L648.25,535.5 L649.14,536.5 L650.02,535.5 L650.91,536.5 L651.79,526.0 L652.68,536.5 L653.56,535.5 L654.45,535.5 L655.33,535.5 L656.22,535.5 L657.10,527.1 L657.99,535.5 L658.87,536.5 L659.76,535.5 L660.64,526.0 L661.53,536.5 L662.41,531.9 L663.30,525.9 L664.18,535.5 L665.07,535.5 L665.95,535.5 L666.84,535.5 L667.72,535.5 L668.61,535.5 L669.49,536.5 L670.38,536.5 L671.26,525.6 L672.15,527.1 L673.03,528.0 L673.92,535.5 L674.80,535.5 L675.69,535.5 L676.57,531.7 L677.46,536.5 L678.34,535.5 L679.23,535.5 L680.11,536.5 L681.00,535.5 L681.88,535.5 L682.77,535.5 L683.65,535.5 L684.54,535.5 L685.42,526.3 L686.31,535.5 L687.19,535.5 L688.08,527.8 L688.96,535.5 L689.85,526.4 L690.73,527.1 L691.62,536.5 L692.50,536.5 L693.39,531.0 L694.27,532.2 L695.16,535.5 L696.04,535.5 L696.93,535.5 L697.81,536.5 L698.70,531.3 L699.58,536.5 L700.47,536.5 L701.35,530.0 L702.24,536.5 L703.12,535.5 L704.01,536.5 L704.89,528.2 L705.78,535.5 L706.66,529.7 L707.55,529.8 L708.43,535.5 L709.32,536.5 L710.20,535.5 L711.09,526.9 L711.97,526.2 L712.86,536.5 L713.74,535.5 L714.63,527.0 L715.51,526.2 L716.40,527.1 L717.28,536.5 L718.17,535.5 L719.05,527.4 L719.94,535.5 L720.82,530.5 L721.71,530.5 L722.59,536.5 L723.48,526.6 L724.36,529.3 L725.25,536.5 L726.13,527.4 L727.02,536.5 L727.90,535.5 L728.79,530.2 L729.67,536.5 L730.56,531.6 L731.44,535.5 L732.33,535.5 L733.21,535.5 L734.10,532.3 L734.98,536.5 L735.87,536.5 L736.75,535.5 L737.64,536.5 L738.52,531.3 L739.41,526.0 L740.29,527.2 L741.18,528.2 L742.06,535.5 L742.95,535.5 L743.83,536.5 L744.72,536.5 L745.60,535.5 L746.49,535.5 L747.37,528.6 L748.26,535.5 L749.14,535.5 L750.03,535.5 L750.91,535.5 L751.80,527.9 L752.68,535.5 L753.57,528.8 L754.45,535.5 L755.34,536.5 L756.22,530.4 L757.11,529.3 L757.99,535.5 L758.88,535.5 L759.76,535.5 L760.65,535.5 L761.53,526.6 L762.42,535.5 L763.30,536.5 L764.19,531.4 L765.07,535.5 L765.96,526.0 L766.84,535.5 L767.73,535.5 L768.61,526.3 L769.50,536.5 L770.38,529.6 L771.27,525.9 L772.15,535.5 L773.04,535.5 L773.92,527.1 L774.81,530.0 L775.69,530.3 L776.58,535.5 L777.46,529.5 L778.35,536.5 L779.23,535.5 L780.12,536.5 L781.00,528.0 L781.89,530.4 L782.77,535.5 L783.66,529.8 L784.54,535.5 L785.43,535.5 L786.31,531.0 L787.20,535.5 L788.08,536.5 L788.97,535.5 L789.85,536.5 L790.74,528.8 L791.62,526.7 L792.51,528.9 L793.39,535.5 L794.28,535.5 L795.16,536.5 L796.05,526.3 L796.93,531.3 L797.82,535.5 L798.70,528.1 L799.59,535.5 L800.47,535.5 L801.36,535.5 L802.24,535.5 L803.13,535.5 L804.01,529.5 L804.90,535.5 L805.78,535.5 L806.67,535.5 L807.55,535.5 L808.44,529.9 L809.32,536.5 L810.21,527.4 L811.09,528.6 L811.98,528.6 L812.86,535.5 L813.75,528.7 L814.63,535.5 L815.52,536.5 L816.40,535.5 L817.29,535.5 L818.17,528.7 L819.06,535.5 L819.94,535.5 L820.83,535.5 L821.71,536.5 L822.60,526.3 L823.48,527.8 L824.37,535.5 L825.25,531.9 L826.14,535.5 L827.02,535.5 L827.91,535.5 L828.79,529.8 L829.68,535.5 L830.56,536.5 L831.45,530.3 L832.33,536.5 L833.22,526.3 L834.10,530.1 L834.99,531.8 L835.87,526.1 L836.76,535.5 L837.64,535.5 L838.53,535.5 L839.41,528.7 L840.30,529.0 L841.18,535.5 L842.07,526.9 L842.95,535.5 L843.84,525.5 L844.72,535.5 L845.61,535.5 L846.49,528.7 L847.38,536.5 L848.26,527.6 L849.15,536.5 L850.03,535.5 L850.92,535.5 L851.80,528.6 L852.69,529.7 L853.57,531.1 L854.46,528.4 L855.34,525.8 L856.23,536.5 L857.11,530.4 L858.00,530.6 L858.88,536.5 L859.77,536.5 L860.65,531.6 L861.54,535.5 L862.42,536.5 L863.31,527.8 L864.19,535.5 L865.08,535.5 L865.96,531.2 L866.85,535.5 L867.73,535.5 L868.62,535.5 L869.50,535.5 L870.39,535.5 L871.27,535.5 L872.16,531.5 L873.04,528.8 L873.93,528.5 L874.81,527.8 L875.70,531.3 L876.58,529.3 L877.47,529.9 L878.35,529.2 L879.24,535.5 L880.12,529.7 L881.01,535.5 L881.89,535.5 L882.78,531.0 L883.66,536.5 L884.55,532.5 L885.43,529.7 L886.32,536.5 L887.20,535.5 L888.09,535.5 L888.97,525.8 L889.86,535.5 L890.74,535.5 L891.63,535.5 L892.51,526.9 L893.40,535.5 L894.28,535.5 L895.17,531.6 L896.05,535.5 L896.94,535.5 L897.82,536.5 L898.71,535.5 L899.59,529.2 L900.48,530.8 L901.36,535.5 L902.25,535.5 L903.13,535.5 L904.02,536.5 L904.90,525.6 L905.79,535.5 L906.67,527.7 L907.56,535.5 L908.44,531.7 L909.33,526.4 L910.21,526.1 L911.10,535.5 L911.98,535.5 L912.87,535.5 L913.75,535.5 L914.64,529.6 L915.52,532.1 L916.41,536.5 L917.29,536.5 L918.18,536.5 L919.06,528.9 L919.95,531.2 L920.83,529.8 L921.72,531.9 L922.60,535.5 L923.49,535.5 L924.37,528.6 L925.26,535.5 L926.14,529.1 L927.03,535.5 L927.91,535.5 L928.80,535.5 L929.68,536.5 L930.57,526.4 L931.45,535.5 L932.34,527.9 L933.22,536.5 L934.11,529.8 L934.99,535.5 L935.88,536.5 L936.76,526.0 L937.65,535.5 L938.53,535.5 L939.42,535.5 L940.30,535.5 L941.19,536.5 L942.07,526.6 L942.96,531.2 L943.84,535.5 L944.73,536.5 L945.61,535.5 L946.50,531.4 L947.38,536.5 L948.27,527.4 L949.15,532.0 L950.04,536.5 L950.92,536.5 L951.81,526.2 L952.69,525.8 L953.58,535.5 L954.46,528.4 L955.35,535.5 L956.23,536.5 L957.12,535.5 L958.00,535.5 L958.89,536.5 L959.77,529.7 L960.66,535.5 L961.54,536.5 L962.43,535.5 L963.31,535.5 L964.20,525.7 L965.08,535.5 L965.97,536.5 L966.85,525.8 L967.74,530.5 L968.62,535.5 L969.51,528.9 L970.39,535.5 L971.28,526.3 L972.16,535.5 L973.05,535.5 L973.93,530.8 L974.82,535.5 L975.70,535.5 L976.59,535.5 L977.47,535.5 L978.36,527.3 L979.24,535.5 L980.13,525.7 L981.01,535.5 L981.90,535.5 L982.78,535.5 L983.67,531.3 L984.55,526.9 L985.44,536.5 L986.32,535.5 L987.21,535.5 L988.09,529.0 L988.98,535.5 L989.86,535.5 L990.75,535.5 L991.63,531.1 L992.52,535.5 L993.40,529.4 L994.29,536.5 L995.17,535.5 L996.06,535.5 L996.94,530.8 L997.83,535.5 L998.71,536.5 L999.60,531.0 L1000.48,529.5 L1001.37,530.3 L1002.25,535.5 L1003.14,536.5 L1004.02,535.5 L1004.91,535.5 L1005.79,535.5 L1006.68,525.6 L1007.56,536.5 L1008.45,535.5 L1009.33,535.5 L1010.22,527.6 L1011.10,526.2 L1011.99,535.5 L1012.87,526.1 L1013.76,535.5 L1014.64,536.5 L1015.53,535.5 L1016.41,528.7 L1017.30,528.3 L1018.18,535.5 L1019.07,536.5 L1019.95,536.5 L1020.84,535.5 L1021.72,535.5 L1022.61,535.5 L1023.49,526.3 L1024.38,535.5 L1025.26,526.4 L1026.15,535.5 L1027.03,532.2 L1027.92,528.2 L1028.80,526.6 L1029.69,535.5 L1030.57,535.5 L1031.46,525.8 L1032.34,536.5 L1033.23,536.5 L1034.11,535.5 L1035.00,535.5 L1035.88,535.5 L1036.77,535.5 L1037.65,535.5 L1038.54,527.1 L1039.42,535.5 L1040.31,531.6 L1041.19,532.0 L1042.08,535.5 L1042.96,531.7 L1043.85,535.5 L1044.73,530.2 L1045.62,535.5 L1046.50,535.5 L1047.39,535.5 L1048.27,536.5 L1049.16,535.5 L1050.04,535.5 L1050.93,535.5 L1051.81,535.5 L1052.70,535.5 L1053.58,535.5 L1054.47,535.5 L1055.35,535.5 L1056.24,535.5 L1057.12,535.5 L1058.01,535.5 L1058.89,536.5 L1059.78,536.5 L1060.66,529.1 L1061.55,531.8 L1062.43,526.7 L1063.32,535.5 L1064.20,525.6 L1065.09,535.5 L1065.97,535.5 L1066.86,536.5 L1067.74,526.4 L1068.63,535.5 L1069.51,530.5 L1070.40,535.5 L1071.28,526.8 L1072.17,535.5 L1073.05,535.5 L1073.94,536.5 L1074.82,535.5 L1075.71,535.5 L1076.59,531.3 L1077.48,535.5 L1078.36,528.1 L1079.25,531.4 L1080.13,536.5 L1081.02,527.6 L1081.90,535.5 L1082.79,536.5 L1083.67,530.1 L1084.56,532.2 L1085.44,530.5 L1086.33,527.3 L1087.21,535.5 L1088.10,535.5 L1088.98,536.5 L1089.87,535.5 L1090.75,535.5 L1091.64,536.5 L1092.52,536.5 L1093.41,530.4 L1094.29,525.5 L1095.18,535.5 L1096.06,527.6 L1096.95,530.6 L1097.83,530.2 L1098.72,532.1 L1099.60,526.8 L1100.49,536.5 L1101.37,536.5 L1102.26,535.5 L1103.14,526.3 L1104.03,535.5 L1104.91,536.5 L1105.80,532.3 L1106.68,536.5 L1107.57,530.9 L1108.45,528.7 L1109.34,535.5 L1110.22,531.9 L1111.11,528.2 L1111.99,535.5 L1112.88,536.5 L1113.76,535.5 L1114.65,535.5 L1115.53,535.5 L1116.42,535.5 L1117.30,531.6 L1118.19,536.5 L1119.07,535.5 L1119.96,526.1 L1120.84,536.5 L1121.73,535.5 L1122.61,526.4 L1123.50,535.5 L1124.38,535.5 L1125.27,527.4 L1126.15,535.5 L1127.04,527.4 L1127.92,536.5 L1128.81,536.5 L1129.69,526.3 L1130.58,536.5 L1131.46,535.5 L1132.35,535.5 L1133.23,535.5 L1134.12,535.5 L1135.00,535.5 L1135.89,525.7 L1136.77,525.9 L1137.66,527.2 L1138.54,532.3 L1139.43,530.9 L1140.31,530.9 L1141.20,535.5 L1142.08,535.5 L1142.97,535.5 L1143.85,535.5 L1144.74,535.5 L1145.62,535.5 L1146.51,536.5 L1147.39,525.6 L1148.28,532.0 L1149.16,535.5 L1150.05,536.5 L1150.93,535.5 L1151.82,529.0 L1152.70,536.5 L1153.59,536.5 L1154.47,535.5 L1155.36,536.5 L1156.24,535.5 L1157.13,536.5 L1158.01,536.5 L1158.90,535.5 L1159.78,535.5 L1160.67,535.5 L1161.55,536.5 L1162.44,536.5 L1163.32,535.5 L1164.21,535.5 L1165.09,535.5 L1165.98,535.5 L1166.86,531.2 L1167.75,535.5 L1168.63,535.5 L1169.52,535.5 L1170.40,535.5 L1171.29,535.5 L1172.17,535.5 L1173.06,536.5 L1173.94,531.6 L1174.83,535.5 L1175.71,535.5 L1176.60,535.5 L1177.48,529.4 L1178.37,528.0 L1179.25,529.6 L1180.14,528.2 L1181.02,531.7 L1181.91,532.5 L1182.79,529.0 L1183.68,536.5 L1184.56,535.5 L1185.45,528.9 L1186.33,535.5 L1187.22,530.8 L1188.10,535.5 L1188.99,536.5 L1189.87,536.5 L1190.76,536.5 L1191.64,529.5 L1192.53,535.5 L1193.41,535.5 L1194.30,535.5 L1195.18,535.5 L1196.07,530.5 L1196.95,525.9 L1197.84,535.5 L1198.72,535.5 L1199.61,526.8 L1200.49,535.5 L1201.38,535.5 L1202.26,536.5 L1203.15,529.3 L1204.03,526.0 L1204.92,536.5 L1205.80,535.5 L1206.69,536.5 L1207.57,529.8 L1208.46,535.5 L1209.34,535.5 L1210.23,536.5 L1211.11,536.5 L1212.00,531.6 L1212.88,535.5 L1213.77,535.5 L1214.65,527.1 L1215.54,536.5 L1216.42,535.5 L1217.31,535.5 L1218.19,535.5 L1219.08,529.4 L1219.96,535.5 L1220.85,527.6 L1221.73,525.6 L1222.62,535.5 L1223.50,536.5 L1224.39,535.5 L1225.27,535.5 L1226.16,536.5 L1227.04,536.5 L1227.93,525.9 L1228.81,535.5 L1229.70,535.5 L1230.58,536.5 L1231.47,535.5 L1232.35,535.5 L1233.24,536.5 L1234.12,535.5 L1235.01,536.5 L1235.89,536.5 L1236.78,529.4 L1237.66,535.5 L1238.55,535.5 L1239.43,536.5 L1240.32,531.9 L1241.20,535.5 L1242.09,526.0 L1242.97,535.5 L1243.86,532.1 L1244.74,536.5 L1245.63,536.5 L1246.51,535.5 L1247.40,535.5 L1248.28,536.5 L1249.17,535.5 L1250.05,535.5 L1250.94,535.5 L1251.82,529.0 L1252.71,526.1 L1253.59,535.5 L1254.48,535.5 L1255.36,525.6 L1256.25,535.5 L1257.13,536.5 L1258.02,535.5 L1258.90,526.4 L1259.79,528.5 L1260.67,535.5 L1261.56,536.5 L1262.44,535.5 L1263.33,535.5 L1264.21,535.5 L1265.10,535.5 L1265.98,535.5 L1266.87,536.5 L1267.75,530.5 L1268.64,526.7 L1269.52,535.5 L1270.41,535.5 L1271.29,535.5 L1272.18,535.5 L1273.06,536.5 L1273.95,535.5 L1274.83,535.5 L1275.72,535.5 L1276.60,535.5 L1277.49,535.5 L1278.37,527.7 L1279.26,535.5 L1280.14,535.5 L1281.03,536.5 L1281.91,535.5 L1282.80,535.5 L1283.68,528.4 L1284.57,525.5 L1285.45,535.5 L1286.34,535.5 L1287.22,535.5 L1288.11,535.5 L1288.99,535.5 L1289.88,532.0 L1290.76,528.1 L1291.65,532.3 L1292.53,531.6 L1293.42,536.5 L1294.30,535.5 L1295.19,531.1 L1296.07,535.5 L1296.96,535.5 L1297.84,527.9 L1298.73,536.5 L1299.61,535.5 L1300.50,536.5 L1301.38,535.5 L1302.27,535.5 L1303.15,527.2 L1304.04,531.7 L1304.92,535.5 L1305.81,536.5 L1306.69,527.1 L1307.58,536.5 L1308.46,531.0 L1309.35,530.4 L1310.23,535.5 L1311.12,535.5 L1312.00,528.1 L1312.89,532.3 L1313.77,535.5 L1314.66,535.5 L1315.54,536.5 L1316.43,535.5 L1317.31,535.5 L1318.20,535.5 L1319.08,536.5 L1319.97,535.5 L1320.85,529.0 L1321.74,526.4 L1322.62,528.6 L1323.51,527.2 L1324.39,536.5 L1325.28,535.5 L1326.16,532.3 L1327.05,535.5 L1327.93,532.0 L1328.82,530.1 L1329.70,527.5 L1330.59,535.5 L1331.47,535.5 L1332.36,535.5 L1333.24,528.1 L1334.13,528.7 L1335.01,535.5 L1335.90,531.3 L1336.78,527.4 L1337.67,529.6 L1338.55,536.5 L1339.44,529.1 L1340.32,535.5 L1341.21,525.9 L1342.09,535.5 L1342.98,526.3 L1343.86,535.5 L1344.75,535.5 L1345.63,536.5 L1346.52,528.5 L1347.40,535.5 L1348.29,536.5 L1349.17,536.5 L1350.06,535.5 L1350.94,536.5 L1351.83,536.5 L1352.71,536.5 L1353.60,529.2 L1354.48,531.5 L1355.37,528.9 L1356.25,535.5 L1357.14,531.8 L1358.02,535.5 L1358.91,535.5 L1359.79,535.5 L1360.68,535.5 L1361.56,529.8 L1362.45,535.5 L1363.33,536.5 L1364.22,535.5 L1365.10,535.5 L1365.99,535.5 L1366.87,536.5 L1367.76,536.5" fill="none" stroke="#009e73" stroke-width="1" shape-rendering="crispEdges"/>
<path d="M229.5,535.5 V516 M228.5,535.5 V526.75" fill="none" stroke="#009e73" stroke-width="1" shape-rendering="crispEdges"/>
<path d="M314.5,535.5 V501.25 M313.5,535.5 V519.375" fill="none" stroke="#009e73" stroke-width="1" shape-rendering="crispEdges"/>
<path d="M408.5,535.5 V516 M407.5,535.5 V526.75" fill="none" stroke="#009e73" stroke-width="1" shape-rendering="crispEdges"/>
<path d="M452.5,535.5 V494 M451.5,535.5 V515.75" fill="none" stroke="#009e73" stroke-width="1" shape-rendering="crispEdges"/>
<path d="M492.5,535.5 V501 M491.5,535.5 V519.25" fill="none" stroke="#009e73" stroke-width="1" shape-rendering="crispEdges"/>
<path d="M541.5,535.5 V504 M540.5,535.5 V520.75" fill="none" stroke="#009e73" stroke-width="1" shape-rendering="crispEdges"/>
<path d="M583.5,535.5 V501 M582.5,535.5 V519.25" fill="none" stroke="#009e73" stroke-width="1" shape-rendering="crispEdges"/>
<path d="M588.5,535.5 V516 M587.5,535.5 V526.75" fill="none" stroke="#009e73" stroke-width="1" shape-rendering="crispEdges"/>
<path d="M720.5,535.5 V497.25 M719.5,535.5 V517.375" fill="none" stroke="#009e73" stroke-width="1" shape-rendering="crispEdges"/>
<path d="M856.5,535.5 V517.25 M855.5,535.5 V527.375" fill="none" stroke="#009e73" stroke-width="1" shape-rendering="crispEdges"/>
<path d="M900.5,535.5 V499 M899.5,535.5 V518.25" fill="none" stroke="#009e73" stroke-width="1" shape-rendering="crispEdges"/>
<path d="M946.5,535.5 V516.25 M945.5,535.5 V526.875" fill="none" stroke="#009e73" stroke-width="1" shape-rendering="crispEdges"/>
<path d="M1079.5,535.5 V516.25 M1078.5,535.5 V526.875" fill="none" stroke="#009e73" stroke-width="1" shape-rendering="crispEdges"/>
<path d="M1168.5,535.5 V506 M1167.5,535.5 V521.75" fill="none" stroke="#009e73" stroke-width="1" shape-rendering="crispEdges"/>
<path d="M1258.5,535.5 V497.25 M1257.5,535.5 V517.375" fill="none" stroke="#009e73" stroke-width="1" shape-rendering="crispEdges"/>
<path d="M95.50,525.5 L96.39,525.5 L97.27,525.5 L98.16,525.5 L99.04,525.5 L99.93,525.5 L100.81,525.5 L101.70,525.5 L102.58,536.2 L103.47,536.2 L104.35,525.5 L105.24,525.5 L106.12,525.5 L107.01,522.8 L107.89,525.5 L108.78,525.5 L109.66,525.5 L110.55,525.5 L111.43,525.5 L112.32,536.2 L113.20,536.2 L114.09,525.5 L114.97,525.5 L115.86,522.8 L116.74,525.5 L117.63,525.5 L118.51,525.5 L119.40,525.5 L120.28,525.5 L121.17,525.5 L122.05,536.2 L122.94,536.2 L123.82,525.5 L124.71,525.5 L125.59,525.5 L126.48,525.5 L127.36,522.8 L128.25,525.5 L129.13,525.5 L130.02,525.5 L130.90,525.5 L131.79,536.2 L132.67,536.2 L133.56,525.5 L134.44,525.5 L135.33,525.5 L136.21,522.8 L137.10,525.5 L137.98,525.5 L138.87,525.5 L139.75,525.5 L140.64,525.5 L141.52,525.5 L142.41,536.2 L143.29,536.2 L144.18,525.5 L145.06,525.5 L145.94,525.5 L146.83,522.8 L147.71,525.5 L148.12,525.5 L199.25,525.5 L200.13,525.5 L201.02,525.5 L201.90,536.2 L202.79,536.2 L203.67,525.5 L204.56,525.5 L205.44,525.5 L206.33,522.8 L207.21,525.5 L208.10,525.5 L208.98,525.5 L209.87,525.5 L210.75,525.5 L211.64,536.2 L212.52,536.2 L213.41,525.5 L214.29,525.5 L215.18,525.5 L216.06,522.8 L216.95,525.5 L217.83,525.5 L218.72,525.5 L219.60,525.5 L220.49,525.5 L221.37,536.2 L222.26,536.2 L223.14,525.5 L224.03,525.5 L224.91,522.8 L225.80,525.5 L226.68,525.5 L227.57,525.5 L228.45,525.5 L229.34,525.5 L230.22,525.5 L231.11,536.2 L231.99,536.2 L232.88,525.5 L233.76,525.5 L234.65,522.8 L235.53,525.5 L236.42,525.5 L237.30,525.5 L238.19,525.5 L239.07,525.5 L239.96,536.2 L240.84,536.2 L241.73,525.5 L242.61,525.5 L243.50,525.5 L244.38,525.5 L245.27,522.8 L246.15,525.5 L247.04,525.5 L247.92,525.5 L248.81,525.5 L249.69,536.2 L250.58,536.2 L251.46,525.5 L252.35,525.5 L253.23,525.5 L254.12,522.8 L255.00,525.5 L255.89,525.5 L256.77,525.5 L257.66,525.5 L258.54,525.5 L259.43,536.2 L260.31,536.2 L261.20,525.5 L262.08,525.5 L262.97,525.5 L263.85,522.8 L264.74,525.5 L265.62,525.5 L266.51,525.5 L267.39,525.5 L268.28,525.5 L269.16,525.5 L270.05,536.2 L270.93,536.2 L271.82,525.5 L272.70,525.5 L273.59,525.5 L274.47,522.8 L275.36,525.5 L276.24,525.5 L277.13,525.5 L278.01,525.5 L278.90,536.2 L279.78,536.2 L280.67,525.5 L281.55,525.5 L282.44,525.5 L283.32,522.8 L284.21,525.5 L285.09,525.5 L285.98,525.5 L286.86,525.5 L287.75,525.5 L288.63,525.5 L289.52,536.2 L290.40,536.2 L291.29,525.5 L292.17,525.5 L293.06,525.5 L293.94,522.8 L294.83,525.5 L295.71,525.5 L296.60,525.5 L297.48,525.5 L298.37,525.5 L299.25,536.2 L300.14,536.2 L301.02,525.5 L301.91,525.5 L302.79,525.5 L303.68,522.8 L304.56,525.5 L305.45,525.5 L306.33,525.5 L307.22,525.5 L308.10,525.5 L308.99,536.2 L309.87,536.2 L310.76,525.5 L311.64,525.5 L312.53,525.5 L313.41,522.8 L314.30,525.5 L315.18,525.5 L316.07,525.5 L316.95,525.5 L317.84,525.5 L318.72,536.2 L319.61,536.2 L320.49,525.5 L321.38,525.5 L322.26,525.5 L323.15,522.8 L324.03,525.5 L324.92,525.5 L325.80,525.5 L326.69,525.5 L327.57,525.5 L328.46,536.2 L329.34,536.2 L330.23,525.5 L331.11,525.5 L332.00,525.5 L332.88,522.8 L333.77,525.5 L334.65,525.5 L335.54,525.5 L336.42,525.5 L337.31,525.5 L338.19,536.2 L339.08,536.2 L339.96,525.5 L340.85,525.5 L341.73,525.5 L342.62,522.8 L343.50,525.5 L344.39,525.5 L345.27,525.5 L346.16,525.5 L347.04,536.2 L347.93,536.2 L348.81,525.5 L349.70,525.5 L350.58,522.8 L351.47,525.5 L352.35,525.5 L353.24,525.5 L354.12,525.5 L355.01,525.5 L355.89,536.2 L356.78,536.2 L357.66,525.5 L358.55,525.5 L359.43,525.5 L360.32,525.5 L361.20,522.8 L362.09,525.5 L362.97,525.5 L363.86,525.5 L364.74,536.2 L365.63,536.2 L366.51,525.5 L367.40,525.5 L368.28,525.5 L369.17,522.8 L370.05,525.5 L370.94,525.5 L371.82,525.5 L372.71,525.5 L373.59,525.5 L374.48,536.2 L375.36,536.2 L376.25,525.5 L377.13,525.5 L378.02,525.5 L378.90,525.5 L379.79,522.8 L380.67,525.5 L381.56,525.5 L382.44,525.5 L383.33,525.5 L384.21,536.2 L385.10,536.2 L385.98,525.5 L386.87,525.5 L387.75,525.5 L388.64,522.8 L389.52,525.5 L390.41,525.5 L391.29,525.5 L392.18,525.5 L393.06,525.5 L393.95,536.2 L394.83,536.2 L395.72,525.5 L396.60,525.5 L397.49,522.8 L398.37,525.5 L399.26,525.5 L400.14,525.5 L401.03,525.5 L401.91,525.5 L402.80,525.5 L403.68,536.2 L404.57,536.2 L405.45,525.5 L406.34,525.5 L407.22,525.5 L408.11,522.8 L408.99,525.5 L409.88,525.5 L410.76,525.5 L411.65,525.5 L412.53,525.5 L413.42,536.2 L414.30,536.2 L415.19,525.5 L416.07,525.5 L416.96,525.5 L417.84,522.8 L418.73,525.5 L419.61,525.5 L420.50,525.5 L421.38,525.5 L422.27,525.5 L423.15,536.2 L424.04,536.2 L424.92,525.5 L425.81,525.5 L426.69,525.5 L427.58,525.5 L428.46,522.8 L429.35,525.5 L430.23,525.5 L431.12,525.5 L432.00,536.2 L432.89,536.2 L433.77,525.5 L434.66,525.5 L435.54,522.8 L436.43,525.5 L437.31,525.5 L438.20,525.5 L439.08,525.5 L439.97,525.5 L440.85,525.5 L441.74,536.2 L442.62,536.2 L443.51,525.5 L444.39,525.5 L445.28,525.5 L446.16,525.5 L447.05,522.8 L447.93,525.5 L448.82,525.5 L449.70,525.5 L450.59,525.5 L451.47,536.2 L452.36,536.2 L453.24,525.5 L454.13,525.5 L455.01,525.5 L455.90,522.8 L456.78,525.5 L457.67,525.5 L458.55,525.5 L459.44,525.5 L460.32,525.5 L461.21,536.2 L462.09,536.2 L462.98,525.5 L463.86,525.5 L464.75,522.8 L465.63,525.5 L466.52,525.5 L467.40,525.5 L468.29,525.5 L469.17,525.5 L470.06,536.2 L470.94,536.2 L471.83,525.5 L472.71,525.5 L473.60,525.5 L474.48,525.5 L475.37,522.8 L476.25,525.5 L477.14,525.5 L478.02,525.5 L478.91,525.5 L479.79,536.2 L480.68,536.2 L481.56,525.5 L482.45,525.5 L483.33,525.5 L484.22,522.8 L485.10,525.5 L485.99,525.5 L486.87,525.5 L487.76,525.5 L488.64,536.2 L489.53,536.2 L490.41,525.5 L491.30,525.5 L492.18,522.8 L493.07,525.5 L493.95,525.5 L494.84,525.5 L495.72,525.5 L496.61,525.5 L497.49,525.5 L498.38,525.5 L499.26,536.2 L500.15,536.2 L501.03,525.5 L501.92,525.5 L502.80,525.5 L503.69,525.5 L504.57,522.8 L505.46,525.5 L506.34,525.5 L507.23,525.5 L508.11,525.5 L509.00,536.2 L509.88,536.2 L510.77,525.5 L511.65,525.5 L512.54,522.8 L513.42,525.5 L514.31,525.5 L515.19,525.5 L516.08,525.5 L516.96,525.5 L517.85,525.5 L518.73,536.2 L519.62,536.2 L520.50,525.5 L521.39,525.5 L522.27,522.8 L523.16,525.5 L524.04,525.5 L524.93,525.5 L525.81,525.5 L526.70,525.5 L527.58,525.5 L528.47,536.2 L529.35,536.2 L530.24,525.5 L531.12,525.5 L532.01,525.5 L532.89,522.8 L533.78,525.5 L534.66,525.5 L535.55,525.5 L536.43,525.5 L537.32,525.5 L538.20,536.2 L539.09,536.2 L539.97,525.5 L540.86,525.5 L541.74,525.5 L542.63,522.8 L543.51,525.5 L544.40,525.5 L545.28,525.5 L546.17,525.5 L547.05,536.2 L547.94,536.2 L548.82,525.5 L549.71,525.5 L550.59,525.5 L551.48,525.5 L552.36,522.8 L553.25,525.5 L554.13,525.5 L555.02,525.5 L555.90,525.5 L556.79,525.5 L557.67,536.2 L558.56,536.2 L559.44,525.5 L560.33,525.5 L561.21,525.5 L562.10,522.8 L562.98,525.5 L563.87,525.5 L564.75,525.5 L565.64,525.5 L566.52,525.5 L567.41,525.5 L568.29,536.2 L569.18,536.2 L570.06,525.5 L570.95,525.5 L571.83,525.5 L572.72,522.8 L573.60,525.5 L574.49,525.5 L575.37,525.5 L576.26,525.5 L577.14,525.5 L578.03,536.2 L578.91,536.2 L579.80,525.5 L580.68,525.5 L581.57,522.8 L582.45,525.5 L583.34,525.5 L584.22,525.5 L585.11,525.5 L585.99,525.5 L586.88,525.5 L587.76,525.5 L588.65,536.2 L589.53,536.2 L590.42,525.5 L591.30,525.5 L592.19,525.5 L593.07,522.8 L593.96,525.5 L594.84,525.5 L595.73,525.5 L596.61,525.5 L597.50,525.5 L598.38,525.5 L599.27,536.2 L600.15,536.2 L601.04,525.5 L601.92,525.5 L602.81,525.5 L603.69,525.5 L604.58,522.8 L605.46,525.5 L606.35,525.5 L607.23,525.5 L608.12,525.5 L609.00,536.2 L609.89,536.2 L610.77,525.5 L611.66,525.5 L612.54,525.5 L613.43,522.8 L614.31,525.5 L615.20,525.5 L616.08,525.5 L616.97,525.5 L617.85,525.5 L618.74,536.2 L619.62,536.2 L620.51,525.5 L621.39,525.5 L622.28,522.8 L623.16,525.5 L624.05,525.5 L624.93,525.5 L625.82,525.5 L626.70,525.5 L627.59,536.2 L628.47,536.2 L629.36,525.5 L630.24,525.5 L631.13,525.5 L632.01,522.8 L632.90,525.5 L633.78,525.5 L634.67,525.5 L635.55,525.5 L636.44,525.5 L637.32,525.5 L638.21,536.2 L639.09,536.2 L639.98,525.5 L640.86,525.5 L641.75,525.5 L642.63,522.8 L643.52,525.5 L644.40,525.5 L645.29,525.5 L646.17,525.5 L647.06,525.5 L647.94,525.5 L648.83,536.2 L649.71,536.2 L650.60,525.5 L651.48,525.5 L652.37,525.5 L653.25,525.5 L654.14,522.8 L655.02,525.5 L655.91,525.5 L656.79,525.5 L657.68,525.5 L658.56,536.2 L659.45,536.2 L660.33,525.5 L661.22,525.5 L662.10,525.5 L662.99,525.5 L663.87,522.8 L664.76,525.5 L665.64,525.5 L666.53,525.5 L667.41,525.5 L668.30,536.2 L669.18,536.2 L670.07,525.5 L670.95,525.5 L671.84,525.5 L672.72,522.8 L673.61,525.5 L674.49,525.5 L675.38,525.5 L676.26,525.5 L677.15,525.5 L678.03,536.2 L678.92,536.2 L679.80,525.5 L680.69,525.5 L681.57,522.8 L682.46,525.5 L683.34,525.5 L684.23,525.5 L685.11,525.5 L686.00,525.5 L686.88,525.5 L687.77,536.2 L688.65,536.2 L689.54,525.5 L690.42,525.5 L691.31,525.5 L692.19,522.8 L693.08,525.5 L693.96,525.5 L694.85,525.5 L695.73,525.5 L696.62,525.5 L697.50,536.2 L698.39,536.2 L699.27,525.5 L700.16,525.5 L701.04,522.8 L701.93,525.5 L702.81,525.5 L703.70,525.5 L704.58,525.5 L705.47,525.5 L706.35,525.5 L707.24,536.2 L708.12,536.2 L709.01,525.5 L709.89,525.5 L710.78,525.5 L711.66,522.8 L712.55,525.5 L713.43,525.5 L714.32,525.5 L715.20,525.5 L716.09,525.5 L716.97,525.5 L717.86,536.2 L718.74,536.2 L719.63,525.5 L720.51,525.5 L721.40,525.5 L722.28,525.5 L723.17,522.8 L724.05,525.5 L724.94,525.5 L725.82,525.5 L726.71,525.5 L727.59,536.2 L728.48,536.2 L729.36,525.5 L730.25,525.5 L731.13,525.5 L732.02,522.8 L732.90,525.5 L733.79,525.5 L734.67,525.5 L735.56,525.5 L736.44,525.5 L737.33,525.5 L738.21,536.2 L739.10,536.2 L739.98,525.5 L740.87,525.5 L741.75,525.5 L742.64,525.5 L743.52,522.8 L744.41,525.5 L745.29,525.5 L746.18,525.5 L747.06,525.5 L747.95,536.2 L748.83,536.2 L749.72,525.5 L750.60,525.5 L751.49,525.5 L752.37,522.8 L753.26,525.5 L754.14,525.5 L755.03,525.5 L755.91,525.5 L756.80,536.2 L757.68,536.2 L758.57,525.5 L759.45,525.5 L760.34,525.5 L761.22,522.8 L762.11,525.5 L762.99,525.5 L763.88,525.5 L764.76,525.5 L765.65,525.5 L766.53,536.2 L767.42,536.2 L768.30,525.5 L769.19,525.5 L770.07,525.5 L770.96,522.8 L771.84,525.5 L772.73,525.5 L773.61,525.5 L774.50,525.5 L775.38,525.5 L776.27,525.5 L777.15,536.2 L778.04,536.2 L778.92,525.5 L779.81,525.5 L780.69,522.8 L781.58,525.5 L782.46,525.5 L783.35,525.5 L784.23,525.5 L785.12,525.5 L786.00,525.5 L786.89,536.2 L787.77,536.2 L788.66,525.5 L789.54,525.5 L790.43,525.5 L791.31,522.8 L792.20,525.5 L793.08,525.5 L793.97,525.5 L794.85,525.5 L795.74,536.2 L796.62,536.2 L797.51,525.5 L798.39,525.5 L799.28,525.5 L800.16,522.8 L801.05,525.5 L801.93,525.5 L802.82,525.5 L803.70,525.5 L804.59,525.5 L805.47,525.5 L806.36,536.2 L807.24,536.2 L808.13,525.5 L809.01,525.5 L809.90,525.5 L810.78,522.8 L811.67,525.5 L812.55,525.5 L813.44,525.5 L814.32,525.5 L815.21,525.5 L816.09,536.2 L816.98,536.2 L817.86,525.5 L818.75,525.5 L819.63,525.5 L820.52,522.8 L821.40,525.5 L822.29,525.5 L823.17,525.5 L824.06,525.5 L824.94,525.5 L825.83,525.5 L826.71,536.2 L827.60,536.2 L828.48,525.5 L829.37,525.5 L830.25,525.5 L831.14,525.5 L832.02,522.8 L832.91,525.5 L833.79,525.5 L834.68,525.5 L835.56,525.5 L836.45,536.2 L837.33,536.2 L838.22,525.5 L839.10,525.5 L839.99,522.8 L840.87,525.5 L841.76,525.5 L842.64,525.5 L843.53,525.5 L844.41,525.5 L845.30,525.5 L846.18,525.5 L847.07,536.2 L847.95,536.2 L848.84,525.5 L849.72,525.5 L850.61,522.8 L851.49,525.5 L852.38,525.5 L853.26,525.5 L854.15,525.5 L855.03,525.5 L855.92,525.5 L856.80,536.2 L857.69,536.2 L858.57,525.5 L859.46,525.5 L860.34,522.8 L861.23,525.5 L862.11,525.5 L863.00,525.5 L863.88,525.5 L864.77,525.5 L865.65,525.5 L866.54,536.2 L867.42,536.2 L868.31,525.5 L869.19,525.5 L870.08,525.5 L870.96,522.8 L871.85,525.5 L872.73,525.5 L873.62,525.5 L874.50,525.5 L875.39,525.5 L876.27,525.5 L877.16,536.2 L878.04,536.2 L878.93,525.5 L879.81,525.5 L880.70,522.8 L881.58,525.5 L882.47,525.5 L883.35,525.5 L884.24,525.5 L885.12,525.5 L886.01,525.5 L886.89,525.5 L887.78,536.2 L888.66,536.2 L889.55,525.5 L890.43,525.5 L891.32,522.8 L892.20,525.5 L893.09,525.5 L893.97,525.5 L894.86,525.5 L895.74,525.5 L896.63,525.5 L897.51,536.2 L898.40,536.2 L899.28,525.5 L900.17,525.5 L901.05,525.5 L901.94,525.5 L902.82,522.8 L903.71,525.5 L904.59,525.5 L905.48,525.5 L906.36,525.5 L907.25,525.5 L908.13,536.2 L909.02,536.2 L909.90,525.5 L910.79,525.5 L911.67,525.5 L912.56,522.8 L913.44,525.5 L914.33,525.5 L915.21,525.5 L916.10,525.5 L916.98,525.5 L917.87,536.2 L918.75,536.2 L919.64,525.5 L920.52,525.5 L921.41,525.5 L922.29,525.5 L923.18,522.8 L924.06,525.5 L924.95,525.5 L925.83,525.5 L926.72,536.2 L927.60,536.2 L928.49,525.5 L929.37,525.5 L930.26,525.5 L931.14,522.8 L932.03,525.5 L932.91,525.5 L933.80,525.5 L934.68,525.5 L935.57,525.5 L936.45,536.2 L937.34,536.2 L938.22,525.5 L939.11,525.5 L939.99,522.8 L940.88,525.5 L941.76,525.5 L942.65,525.5 L943.53,525.5 L944.42,525.5 L945.30,525.5 L946.19,536.2 L947.07,536.2 L947.96,525.5 L948.84,525.5 L949.73,525.5 L950.61,522.8 L951.50,525.5 L952.38,525.5 L953.27,525.5 L954.15,525.5 L955.04,536.2 L955.92,536.2 L956.81,525.5 L957.69,525.5 L958.58,525.5 L959.46,522.8 L960.35,525.5 L961.23,525.5 L962.12,525.5 L963.00,525.5 L963.89,536.2 L964.77,536.2 L965.66,525.5 L966.54,525.5 L967.43,522.8 L968.31,525.5 L969.20,525.5 L970.08,525.5 L970.97,525.5 L971.85,525.5 L972.74,525.5 L973.62,525.5 L974.51,536.2 L975.39,536.2 L976.28,525.5 L977.16,525.5 L978.05,525.5 L978.93,522.8 L979.82,525.5 L980.70,525.5 L981.59,525.5 L982.47,525.5 L983.36,525.5 L984.24,536.2 L985.13,536.2 L986.01,525.5 L986.90,525.5 L987.78,525.5 L988.67,522.8 L989.55,525.5 L990.44,525.5 L991.32,525.5 L992.21,525.5 L993.09,536.2 L993.98,536.2 L994.86,525.5 L995.75,525.5 L996.63,525.5 L997.52,522.8 L998.40,525.5 L999.29,525.5 L1000.17,525.5 L1001.06,525.5 L1001.94,525.5 L1002.83,536.2 L1003.71,536.2 L1004.60,525.5 L1005.48,525.5 L1006.37,522.8 L1007.25,525.5 L1008.14,525.5 L1009.02,525.5 L1009.91,525.5 L1010.79,525.5 L1011.68,525.5 L1012.56,525.5 L1013.45,536.2 L1014.33,536.2 L1015.22,525.5 L1016.10,525.5 L1016.99,525.5 L1017.87,522.8 L1018.76,525.5 L1019.64,525.5 L1020.53,525.5 L1021.41,525.5 L1022.30,525.5 L1023.18,525.5 L1024.07,536.2 L1024.95,536.2 L1025.84,525.5 L1026.72,525.5 L1027.61,522.8 L1028.49,525.5 L1029.38,525.5 L1030.26,525.5 L1031.15,525.5 L1032.03,525.5 L1032.92,525.5 L1033.80,536.2 L1034.69,536.2 L1035.57,525.5 L1036.46,525.5 L1037.34,525.5 L1038.23,522.8 L1039.11,525.5 L1040.00,525.5 L1040.88,525.5 L1041.77,525.5 L1042.65,525.5 L1043.54,536.2 L1044.42,536.2 L1045.31,525.5 L1046.19,525.5 L1047.08,525.5 L1047.96,522.8 L1048.85,525.5 L1049.73,525.5 L1050.62,525.5 L1051.50,525.5 L1052.39,536.2 L1053.27,536.2 L1054.16,525.5 L1055.04,525.5 L1055.93,525.5 L1056.81,522.8 L1057.70,525.5 L1058.58,525.5 L1059.47,525.5 L1060.35,525.5 L1061.24,536.2 L1062.12,536.2 L1063.01,525.5 L1063.89,525.5 L1064.78,525.5 L1065.66,522.8 L1066.55,525.5 L1067.43,525.5 L1068.32,525.5 L1069.20,525.5 L1070.09,525.5 L1070.97,536.2 L1071.86,536.2 L1072.74,525.5 L1073.63,525.5 L1074.51,525.5 L1075.40,522.8 L1076.28,525.5 L1077.17,525.5 L1078.05,525.5 L1078.94,525.5 L1079.82,525.5 L1080.71,536.2 L1081.59,536.2 L1082.48,525.5 L1083.36,525.5 L1084.25,522.8 L1085.13,525.5 L1086.02,525.5 L1086.90,525.5 L1087.79,525.5 L1088.67,525.5 L1089.56,525.5 L1090.44,525.5 L1091.33,536.2 L1092.21,536.2 L1093.10,525.5 L1093.98,525.5 L1094.87,525.5 L1095.75,522.8 L1096.64,525.5 L1097.52,525.5 L1098.41,525.5 L1099.29,525.5 L1100.18,536.2 L1101.06,536.2 L1101.95,525.5 L1102.83,525.5 L1103.72,525.5 L1104.60,522.8 L1105.49,525.5 L1106.37,525.5 L1107.26,525.5 L1108.14,525.5 L1109.03,525.5 L1109.91,525.5 L1110.80,536.2 L1111.68,536.2 L1112.57,525.5 L1113.45,525.5 L1114.34,525.5 L1115.22,522.8 L1116.11,525.5 L1116.99,525.5 L1117.88,525.5 L1118.76,525.5 L1119.65,525.5 L1120.53,525.5 L1121.42,536.2 L1122.30,536.2 L1123.19,525.5 L1124.07,525.5 L1124.96,522.8 L1125.84,525.5 L1126.73,525.5 L1127.61,525.5 L1128.50,525.5 L1129.38,525.5 L1130.27,536.2 L1131.15,536.2 L1132.04,525.5 L1132.92,525.5 L1133.81,525.5 L1134.69,522.8 L1135.58,525.5 L1136.46,525.5 L1137.35,525.5 L1138.23,525.5 L1139.12,525.5 L1140.00,536.2 L1140.89,536.2 L1141.77,525.5 L1142.66,525.5 L1143.54,525.5 L1144.43,522.8 L1145.31,525.5 L1146.20,525.5 L1147.08,525.5 L1147.97,525.5 L1148.85,525.5 L1149.74,536.2 L1150.62,536.2 L1151.51,525.5 L1152.39,525.5 L1153.28,525.5 L1154.16,525.5 L1155.05,522.8 L1155.93,525.5 L1156.82,525.5 L1157.70,525.5 L1158.59,536.2 L1159.47,536.2 L1160.36,525.5 L1161.24,525.5 L1162.13,525.5 L1163.01,525.5 L1163.90,522.8 L1164.78,525.5 L1165.67,525.5 L1166.55,525.5 L1167.44,536.2 L1168.32,536.2 L1169.21,525.5 L1170.09,525.5 L1170.98,522.8 L1171.86,525.5 L1172.75,525.5 L1173.63,525.5 L1174.52,525.5 L1175.40,525.5 L1176.29,525.5 L1177.17,536.2 L1178.06,536.2 L1178.94,525.5 L1179.83,525.5 L1180.71,522.8 L1181.60,525.5 L1182.48,525.5 L1183.37,525.5 L1184.25,525.5 L1185.14,525.5 L1186.02,536.2 L1186.91,536.2 L1187.79,525.5 L1188.68,525.5 L1189.56,525.5 L1190.45,522.8 L1191.33,525.5 L1192.22,525.5 L1193.10,525.5 L1193.99,525.5 L1194.87,525.5 L1195.76,536.2 L1196.64,536.2 L1197.53,525.5 L1198.41,525.5 L1199.30,525.5 L1200.18,522.8 L1201.07,525.5 L1201.95,525.5 L1202.84,525.5 L1203.72,525.5 L1204.61,525.5 L1205.49,525.5 L1206.38,536.2 L1207.26,536.2 L1208.15,525.5 L1209.03,525.5 L1209.92,525.5 L1210.80,522.8 L1211.69,525.5 L1212.57,525.5 L1213.46,525.5 L1214.34,525.5 L1215.23,525.5 L1216.11,536.2 L1217.00,536.2 L1217.88,525.5 L1218.77,525.5 L1219.65,525.5 L1220.54,522.8 L1221.42,525.5 L1222.31,525.5 L1223.19,525.5 L1224.08,525.5 L1224.96,525.5 L1225.85,525.5 L1226.73,536.2 L1227.62,536.2 L1228.50,525.5 L1229.39,525.5 L1230.27,525.5 L1231.16,522.8 L1232.04,525.5 L1232.93,525.5 L1233.81,525.5 L1234.70,525.5 L1235.58,525.5 L1236.47,525.5 L1237.35,536.2 L1238.24,536.2 L1239.12,525.5 L1240.01,525.5 L1240.89,525.5 L1241.78,522.8 L1242.66,525.5 L1243.55,525.5 L1244.43,525.5 L1245.32,525.5 L1246.20,525.5 L1247.09,536.2 L1247.97,536.2 L1248.86,525.5 L1249.74,525.5 L1250.63,522.8 L1251.51,525.5 L1252.40,525.5 L1253.28,525.5 L1254.17,525.5 L1255.05,525.5 L1255.94,536.2 L1256.82,536.2 L1257.71,525.5 L1258.59,525.5 L1259.48,525.5 L1260.36,522.8 L1261.25,525.5 L1262.13,525.5 L1263.02,525.5 L1263.90,525.5 L1264.79,525.5 L1265.67,536.2 L1266.56,536.2 L1267.44,525.5 L1268.33,525.5 L1269.21,525.5 L1270.10,525.5 L1270.98,522.8 L1271.87,525.5 L1272.75,525.5 L1273.64,525.5 L1274.52,525.5 L1275.41,525.5 L1276.29,536.2 L1277.18,536.2 L1278.06,525.5 L1278.95,525.5 L1279.83,525.5 L1280.72,525.5 L1281.60,522.8 L1282.49,525.5 L1283.37,525.5 L1284.26,525.5 L1285.14,536.2 L1286.03,536.2 L1286.91,525.5 L1287.80,525.5 L1288.68,522.8 L1289.57,525.5 L1290.45,525.5 L1291.34,525.5 L1292.22,525.5 L1293.11,525.5 L1293.99,536.2 L1294.88,536.2 L1295.76,525.5 L1296.65,525.5 L1297.53,525.5 L1298.42,522.8 L1299.30,525.5 L1300.19,525.5 L1301.07,525.5 L1301.96,525.5 L1302.84,525.5 L1303.73,525.5 L1304.61,536.2 L1305.50,536.2 L1306.38,525.5 L1307.27,525.5 L1308.15,525.5 L1309.04,525.5 L1309.92,522.8 L1310.81,525.5 L1311.69,525.5 L1312.58,525.5 L1313.46,525.5 L1314.35,536.2 L1315.23,536.2 L1316.12,525.5 L1317.00,525.5 L1317.89,525.5 L1318.77,522.8 L1319.66,525.5 L1320.54,525.5 L1321.43,525.5 L1322.31,525.5 L1323.20,525.5 L1324.08,536.2 L1324.97,536.2 L1325.85,525.5 L1326.74,525.5 L1327.62,525.5 L1328.51,525.5 L1329.39,522.8 L1330.28,525.5 L1331.16,525.5 L1332.05,525.5 L1332.93,525.5 L1333.82,536.2 L1334.70,536.2 L1335.59,525.5 L1336.47,525.5 L1337.36,522.8 L1338.24,525.5 L1339.13,525.5 L1340.01,525.5 L1340.90,525.5 L1341.78,525.5 L1342.67,525.5 L1343.55,536.2 L1344.44,536.2 L1345.32,525.5 L1346.21,525.5 L1347.09,525.5 L1347.98,522.8 L1348.86,525.5 L1349.75,525.5 L1350.63,525.5 L1351.52,525.5 L1352.40,525.5 L1353.29,525.5 L1354.17,536.2 L1355.06,536.2 L1355.94,525.5 L1356.83,525.5 L1357.71,525.5 L1358.60,522.8 L1359.48,525.5 L1360.37,525.5 L1361.25,525.5 L1362.14,525.5 L1363.02,525.5 L1363.91,536.2" fill="none" stroke="#56b4e9" stroke-width="1" shape-rendering="crispEdges"/>
<path d="M95,525.5H1364.4" fill="none" stroke="#56b4e9" stroke-width="1" shape-rendering="crispEdges"/>
<path d="M333.5,525.5 V497.25 M334.5,525.5 V514.375" fill="none" stroke="#56b4e9" stroke-width="1" shape-rendering="crispEdges"/>
<path d="M1190.5,525.5 V507.25 M1191.5,525.5 V519.375" fill="none" stroke="#56b4e9" stroke-width="1" shape-rendering="crispEdges"/>
<rect x="96.1" y="481.0" width="12.8" height="12.8" fill="#f0e442"/>
<rect x="194.1" y="480.90000000000003" width="12.8" height="12.8" fill="#f0e442"/>
<rect x="1103.1" y="480.90000000000003" width="12.8" height="12.8" fill="#f0e442"/>
<rect x="194.7" y="427.7" width="11.600000000000001" height="11.600000000000001" fill="none" stroke="#e69f00" stroke-width="1.2"/>
<circle cx="96.5" cy="504.5" r="4.95" fill="none" stroke="#0072b2" stroke-width="1.15"/><path d="M96.5,498.0v1.5M96.5,509.5v1.5M90.0,504.5h1.5M101.5,504.5h1.5" stroke="#0072b2" stroke-width="1" shape-rendering="crispEdges"/>
<circle cx="143.5" cy="508.5" r="4.95" fill="none" stroke="#0072b2" stroke-width="1.15"/><path d="M143.5,502.0v1.5M143.5,513.5v1.5M137.0,508.5h1.5M148.5,508.5h1.5" stroke="#0072b2" stroke-width="1" shape-rendering="crispEdges"/>
<circle cx="202.5" cy="507.5" r="4.95" fill="none" stroke="#0072b2" stroke-width="1.15"/><path d="M202.5,501.0v1.5M202.5,512.5v1.5M196.0,507.5h1.5M207.5,507.5h1.5" stroke="#0072b2" stroke-width="1" shape-rendering="crispEdges"/>
<circle cx="249.5" cy="507.5" r="4.95" fill="none" stroke="#0072b2" stroke-width="1.15"/><path d="M249.5,501.0v1.5M249.5,512.5v1.5M243.0,507.5h1.5M254.5,507.5h1.5" stroke="#0072b2" stroke-width="1" shape-rendering="crispEdges"/>
<circle cx="255.5" cy="504.5" r="4.95" fill="none" stroke="#0072b2" stroke-width="1.15"/><path d="M255.5,498.0v1.5M255.5,509.5v1.5M249.0,504.5h1.5M260.5,504.5h1.5" stroke="#0072b2" stroke-width="1" shape-rendering="crispEdges"/>
<circle cx="302.5" cy="506.5" r="4.95" fill="none" stroke="#0072b2" stroke-width="1.15"/><path d="M302.5,500.0v1.5M302.5,511.5v1.5M296.0,506.5h1.5M307.5,506.5h1.5" stroke="#0072b2" stroke-width="1" shape-rendering="crispEdges"/>
<circle cx="308.5" cy="498.5" r="4.95" fill="none" stroke="#0072b2" stroke-width="1.15"/><path d="M308.5,492.0v1.5M308.5,503.5v1.5M302.0,498.5h1.5M313.5,498.5h1.5" stroke="#0072b2" stroke-width="1" shape-rendering="crispEdges"/>
<circle cx="355.5" cy="507.5" r="4.95" fill="none" stroke="#0072b2" stroke-width="1.15"/><path d="M355.5,501.0v1.5M355.5,512.5v1.5M349.0,507.5h1.5M360.5,507.5h1.5" stroke="#0072b2" stroke-width="1" shape-rendering="crispEdges"/>
<circle cx="361.5" cy="506.5" r="4.95" fill="none" stroke="#0072b2" stroke-width="1.15"/><path d="M361.5,500.0v1.5M361.5,511.5v1.5M355.0,506.5h1.5M366.5,506.5h1.5" stroke="#0072b2" stroke-width="1" shape-rendering="crispEdges"/>
<circle cx="408.5" cy="503.5" r="4.95" fill="none" stroke="#0072b2" stroke-width="1.15"/><path d="M408.5,497.0v1.5M408.5,508.5v1.5M402.0,503.5h1.5M413.5,503.5h1.5" stroke="#0072b2" stroke-width="1" shape-rendering="crispEdges"/>
<circle cx="415.5" cy="507.5" r="4.95" fill="none" stroke="#0072b2" stroke-width="1.15"/><path d="M415.5,501.0v1.5M415.5,512.5v1.5M409.0,507.5h1.5M420.5,507.5h1.5" stroke="#0072b2" stroke-width="1" shape-rendering="crispEdges"/>
<circle cx="461.5" cy="508.5" r="4.95" fill="none" stroke="#0072b2" stroke-width="1.15"/><path d="M461.5,502.0v1.5M461.5,513.5v1.5M455.0,508.5h1.5M466.5,508.5h1.5" stroke="#0072b2" stroke-width="1" shape-rendering="crispEdges"/>
<circle cx="468.5" cy="497.5" r="4.95" fill="none" stroke="#0072b2" stroke-width="1.15"/><path d="M468.5,491.0v1.5M468.5,502.5v1.5M462.0,497.5h1.5M473.5,497.5h1.5" stroke="#0072b2" stroke-width="1" shape-rendering="crispEdges"/>
<circle cx="515.5" cy="504.5" r="4.95" fill="none" stroke="#0072b2" stroke-width="1.15"/><path d="M515.5,498.0v1.5M515.5,509.5v1.5M509.0,504.5h1.5M520.5,504.5h1.5" stroke="#0072b2" stroke-width="1" shape-rendering="crispEdges"/>
<circle cx="521.5" cy="506.5" r="4.95" fill="none" stroke="#0072b2" stroke-width="1.15"/><path d="M521.5,500.0v1.5M521.5,511.5v1.5M515.0,506.5h1.5M526.5,506.5h1.5" stroke="#0072b2" stroke-width="1" shape-rendering="crispEdges"/>
<circle cx="568.5" cy="506.5" r="4.95" fill="none" stroke="#0072b2" stroke-width="1.15"/><path d="M568.5,500.0v1.5M568.5,511.5v1.5M562.0,506.5h1.5M573.5,506.5h1.5" stroke="#0072b2" stroke-width="1" shape-rendering="crispEdges"/>
<circle cx="574.5" cy="507.5" r="4.95" fill="none" stroke="#0072b2" stroke-width="1.15"/><path d="M574.5,501.0v1.5M574.5,512.5v1.5M568.0,507.5h1.5M579.5,507.5h1.5" stroke="#0072b2" stroke-width="1" shape-rendering="crispEdges"/>
<circle cx="621.5" cy="495.5" r="4.95" fill="none" stroke="#0072b2" stroke-width="1.15"/><path d="M621.5,489.0v1.5M621.5,500.5v1.5M615.0,495.5h1.5M626.5,495.5h1.5" stroke="#0072b2" stroke-width="1" shape-rendering="crispEdges"/>
<circle cx="627.5" cy="505.5" r="4.95" fill="none" stroke="#0072b2" stroke-width="1.15"/><path d="M627.5,499.0v1.5M627.5,510.5v1.5M621.0,505.5h1.5M632.5,505.5h1.5" stroke="#0072b2" stroke-width="1" shape-rendering="crispEdges"/>
<circle cx="674.5" cy="506.5" r="4.95" fill="none" stroke="#0072b2" stroke-width="1.15"/><path d="M674.5,500.0v1.5M674.5,511.5v1.5M668.0,506.5h1.5M679.5,506.5h1.5" stroke="#0072b2" stroke-width="1" shape-rendering="crispEdges"/>
<circle cx="680.5" cy="493.5" r="4.95" fill="none" stroke="#0072b2" stroke-width="1.15"/><path d="M680.5,487.0v1.5M680.5,498.5v1.5M674.0,493.5h1.5M685.5,493.5h1.5" stroke="#0072b2" stroke-width="1" shape-rendering="crispEdges"/>
<circle cx="727.5" cy="507.5" r="4.95" fill="none" stroke="#0072b2" stroke-width="1.15"/><path d="M727.5,501.0v1.5M727.5,512.5v1.5M721.0,507.5h1.5M732.5,507.5h1.5" stroke="#0072b2" stroke-width="1" shape-rendering="crispEdges"/>
<circle cx="733.5" cy="496.5" r="4.95" fill="none" stroke="#0072b2" stroke-width="1.15"/><path d="M733.5,490.0v1.5M733.5,501.5v1.5M727.0,496.5h1.5M738.5,496.5h1.5" stroke="#0072b2" stroke-width="1" shape-rendering="crispEdges"/>
<circle cx="780.5" cy="503.5" r="4.95" fill="none" stroke="#0072b2" stroke-width="1.15"/><path d="M780.5,497.0v1.5M780.5,508.5v1.5M774.0,503.5h1.5M785.5,503.5h1.5" stroke="#0072b2" stroke-width="1" shape-rendering="crispEdges"/>
<circle cx="786.5" cy="505.5" r="4.95" fill="none" stroke="#0072b2" stroke-width="1.15"/><path d="M786.5,499.0v1.5M786.5,510.5v1.5M780.0,505.5h1.5M791.5,505.5h1.5" stroke="#0072b2" stroke-width="1" shape-rendering="crispEdges"/>
<circle cx="833.5" cy="507.5" r="4.95" fill="none" stroke="#0072b2" stroke-width="1.15"/><path d="M833.5,501.0v1.5M833.5,512.5v1.5M827.0,507.5h1.5M838.5,507.5h1.5" stroke="#0072b2" stroke-width="1" shape-rendering="crispEdges"/>
<circle cx="840.5" cy="505.5" r="4.95" fill="none" stroke="#0072b2" stroke-width="1.15"/><path d="M840.5,499.0v1.5M840.5,510.5v1.5M834.0,505.5h1.5M845.5,505.5h1.5" stroke="#0072b2" stroke-width="1" shape-rendering="crispEdges"/>
<circle cx="886.5" cy="507.5" r="4.95" fill="none" stroke="#0072b2" stroke-width="1.15"/><path d="M886.5,501.0v1.5M886.5,512.5v1.5M880.0,507.5h1.5M891.5,507.5h1.5" stroke="#0072b2" stroke-width="1" shape-rendering="crispEdges"/>
<circle cx="893.5" cy="507.5" r="4.95" fill="none" stroke="#0072b2" stroke-width="1.15"/><path d="M893.5,501.0v1.5M893.5,512.5v1.5M887.0,507.5h1.5M898.5,507.5h1.5" stroke="#0072b2" stroke-width="1" shape-rendering="crispEdges"/>
<circle cx="940.5" cy="506.5" r="4.95" fill="none" stroke="#0072b2" stroke-width="1.15"/><path d="M940.5,500.0v1.5M940.5,511.5v1.5M934.0,506.5h1.5M945.5,506.5h1.5" stroke="#0072b2" stroke-width="1" shape-rendering="crispEdges"/>
<circle cx="946.5" cy="502.5" r="4.95" fill="none" stroke="#0072b2" stroke-width="1.15"/><path d="M946.5,496.0v1.5M946.5,507.5v1.5M940.0,502.5h1.5M951.5,502.5h1.5" stroke="#0072b2" stroke-width="1" shape-rendering="crispEdges"/>
<circle cx="993.5" cy="506.5" r="4.95" fill="none" stroke="#0072b2" stroke-width="1.15"/><path d="M993.5,500.0v1.5M993.5,511.5v1.5M987.0,506.5h1.5M998.5,506.5h1.5" stroke="#0072b2" stroke-width="1" shape-rendering="crispEdges"/>
<circle cx="999.5" cy="506.5" r="4.95" fill="none" stroke="#0072b2" stroke-width="1.15"/><path d="M999.5,500.0v1.5M999.5,511.5v1.5M993.0,506.5h1.5M1004.5,506.5h1.5" stroke="#0072b2" stroke-width="1" shape-rendering="crispEdges"/>
<circle cx="1046.5" cy="506.5" r="4.95" fill="none" stroke="#0072b2" stroke-width="1.15"/><path d="M1046.5,500.0v1.5M1046.5,511.5v1.5M1040.0,506.5h1.5M1051.5,506.5h1.5" stroke="#0072b2" stroke-width="1" shape-rendering="crispEdges"/>
<circle cx="1052.5" cy="506.5" r="4.95" fill="none" stroke="#0072b2" stroke-width="1.15"/><path d="M1052.5,500.0v1.5M1052.5,511.5v1.5M1046.0,506.5h1.5M1057.5,506.5h1.5" stroke="#0072b2" stroke-width="1" shape-rendering="crispEdges"/>
<circle cx="1099.5" cy="503.5" r="4.95" fill="none" stroke="#0072b2" stroke-width="1.15"/><path d="M1099.5,497.0v1.5M1099.5,508.5v1.5M1093.0,503.5h1.5M1104.5,503.5h1.5" stroke="#0072b2" stroke-width="1" shape-rendering="crispEdges"/>
<circle cx="1105.5" cy="505.5" r="4.95" fill="none" stroke="#0072b2" stroke-width="1.15"/><path d="M1105.5,499.0v1.5M1105.5,510.5v1.5M1099.0,505.5h1.5M1110.5,505.5h1.5" stroke="#0072b2" stroke-width="1" shape-rendering="crispEdges"/>
<circle cx="1152.5" cy="507.5" r="4.95" fill="none" stroke="#0072b2" stroke-width="1.15"/><path d="M1152.5,501.0v1.5M1152.5,512.5v1.5M1146.0,507.5h1.5M1157.5,507.5h1.5" stroke="#0072b2" stroke-width="1" shape-rendering="crispEdges"/>
<circle cx="1158.5" cy="506.5" r="4.95" fill="none" stroke="#0072b2" stroke-width="1.15"/><path d="M1158.5,500.0v1.5M1158.5,511.5v1.5M1152.0,506.5h1.5M1163.5,506.5h1.5" stroke="#0072b2" stroke-width="1" shape-rendering="crispEdges"/>
<circle cx="1205.5" cy="505.5" r="4.95" fill="none" stroke="#0072b2" stroke-width="1.15"/><path d="M1205.5,499.0v1.5M1205.5,510.5v1.5M1199.0,505.5h1.5M1210.5,505.5h1.5" stroke="#0072b2" stroke-width="1" shape-rendering="crispEdges"/>
<circle cx="1211.5" cy="509.5" r="4.95" fill="none" stroke="#0072b2" stroke-width="1.15"/><path d="M1211.5,503.0v1.5M1211.5,514.5v1.5M1205.0,509.5h1.5M1216.5,509.5h1.5" stroke="#0072b2" stroke-width="1" shape-rendering="crispEdges"/>
<circle cx="1258.5" cy="507.5" r="4.95" fill="none" stroke="#0072b2" stroke-width="1.15"/><path d="M1258.5,501.0v1.5M1258.5,512.5v1.5M1252.0,507.5h1.5M1263.5,507.5h1.5" stroke="#0072b2" stroke-width="1" shape-rendering="crispEdges"/>
<circle cx="1265.5" cy="507.5" r="4.95" fill="none" stroke="#0072b2" stroke-width="1.15"/><path d="M1265.5,501.0v1.5M1265.5,512.5v1.5M1259.0,507.5h1.5M1270.5,507.5h1.5" stroke="#0072b2" stroke-width="1" shape-rendering="crispEdges"/>
<circle cx="1311.5" cy="509.5" r="4.95" fill="none" stroke="#0072b2" stroke-width="1.15"/><path d="M1311.5,503.0v1.5M1311.5,514.5v1.5M1305.0,509.5h1.5M1316.5,509.5h1.5" stroke="#0072b2" stroke-width="1" shape-rendering="crispEdges"/>
<circle cx="1318.5" cy="508.5" r="4.95" fill="none" stroke="#0072b2" stroke-width="1.15"/><path d="M1318.5,502.0v1.5M1318.5,513.5v1.5M1312.0,508.5h1.5M1323.5,508.5h1.5" stroke="#0072b2" stroke-width="1" shape-rendering="crispEdges"/>
<circle cx="1365.5" cy="508.5" r="4.95" fill="none" stroke="#0072b2" stroke-width="1.15"/><path d="M1365.5,502.0v1.5M1365.5,513.5v1.5M1359.0,508.5h1.5M1370.5,508.5h1.5" stroke="#0072b2" stroke-width="1" shape-rendering="crispEdges"/>
<circle cx="96.5" cy="535.5" r="5.55" fill="#e51e10"/><path d="M96.5,529.0v1.5M96.5,540.5v1.5M90.0,535.5h1.5M101.5,535.5h1.5" stroke="#e51e10" stroke-width="1" shape-rendering="crispEdges"/>
<circle cx="143.5" cy="531.5" r="5.55" fill="#e51e10"/><path d="M143.5,525.0v1.5M143.5,536.5v1.5M137.0,531.5h1.5M148.5,531.5h1.5" stroke="#e51e10" stroke-width="1" shape-rendering="crispEdges"/>
<circle cx="202.5" cy="535.5" r="5.55" fill="#e51e10"/><path d="M202.5,529.0v1.5M202.5,540.5v1.5M196.0,535.5h1.5M207.5,535.5h1.5" stroke="#e51e10" stroke-width="1" shape-rendering="crispEdges"/>
<circle cx="249.5" cy="534.5" r="5.55" fill="#e51e10"/><path d="M249.5,528.0v1.5M249.5,539.5v1.5M243.0,534.5h1.5M254.5,534.5h1.5" stroke="#e51e10" stroke-width="1" shape-rendering="crispEdges"/>
<circle cx="256.5" cy="535.5" r="5.55" fill="#e51e10"/><path d="M256.5,529.0v1.5M256.5,540.5v1.5M250.0,535.5h1.5M261.5,535.5h1.5" stroke="#e51e10" stroke-width="1" shape-rendering="crispEdges"/>
<circle cx="302.5" cy="533.5" r="5.55" fill="#e51e10"/><path d="M302.5,527.0v1.5M302.5,538.5v1.5M296.0,533.5h1.5M307.5,533.5h1.5" stroke="#e51e10" stroke-width="1" shape-rendering="crispEdges"/>
<circle cx="308.5" cy="526.5" r="5.55" fill="#e51e10"/><path d="M308.5,520.0v1.5M308.5,531.5v1.5M302.0,526.5h1.5M313.5,526.5h1.5" stroke="#e51e10" stroke-width="1" shape-rendering="crispEdges"/>
<circle cx="356.5" cy="531.5" r="5.55" fill="#e51e10"/><path d="M356.5,525.0v1.5M356.5,536.5v1.5M350.0,531.5h1.5M361.5,531.5h1.5" stroke="#e51e10" stroke-width="1" shape-rendering="crispEdges"/>
<circle cx="361.5" cy="534.5" r="5.55" fill="#e51e10"/><path d="M361.5,528.0v1.5M361.5,539.5v1.5M355.0,534.5h1.5M366.5,534.5h1.5" stroke="#e51e10" stroke-width="1" shape-rendering="crispEdges"/>
<circle cx="408.5" cy="532.5" r="5.55" fill="#e51e10"/><path d="M408.5,526.0v1.5M408.5,537.5v1.5M402.0,532.5h1.5M413.5,532.5h1.5" stroke="#e51e10" stroke-width="1" shape-rendering="crispEdges"/>
<circle cx="415.5" cy="529.5" r="5.55" fill="#e51e10"/><path d="M415.5,523.0v1.5M415.5,534.5v1.5M409.0,529.5h1.5M420.5,529.5h1.5" stroke="#e51e10" stroke-width="1" shape-rendering="crispEdges"/>
<circle cx="461.5" cy="528.5" r="5.55" fill="#e51e10"/><path d="M461.5,522.0v1.5M461.5,533.5v1.5M455.0,528.5h1.5M466.5,528.5h1.5" stroke="#e51e10" stroke-width="1" shape-rendering="crispEdges"/>
<circle cx="468.5" cy="533.5" r="5.55" fill="#e51e10"/><path d="M468.5,527.0v1.5M468.5,538.5v1.5M462.0,533.5h1.5M473.5,533.5h1.5" stroke="#e51e10" stroke-width="1" shape-rendering="crispEdges"/>
<circle cx="515.5" cy="533.5" r="5.55" fill="#e51e10"/><path d="M515.5,527.0v1.5M515.5,538.5v1.5M509.0,533.5h1.5M520.5,533.5h1.5" stroke="#e51e10" stroke-width="1" shape-rendering="crispEdges"/>
<circle cx="521.5" cy="534.5" r="5.55" fill="#e51e10"/><path d="M521.5,528.0v1.5M521.5,539.5v1.5M515.0,534.5h1.5M526.5,534.5h1.5" stroke="#e51e10" stroke-width="1" shape-rendering="crispEdges"/>
<circle cx="568.5" cy="533.5" r="5.55" fill="#e51e10"/><path d="M568.5,527.0v1.5M568.5,538.5v1.5M562.0,533.5h1.5M573.5,533.5h1.5" stroke="#e51e10" stroke-width="1" shape-rendering="crispEdges"/>
<circle cx="574.5" cy="518.5" r="5.55" fill="#e51e10"/><path d="M574.5,512.0v1.5M574.5,523.5v1.5M568.0,518.5h1.5M579.5,518.5h1.5" stroke="#e51e10" stroke-width="1" shape-rendering="crispEdges"/>
<circle cx="621.5" cy="533.5" r="5.55" fill="#e51e10"/><path d="M621.5,527.0v1.5M621.5,538.5v1.5M615.0,533.5h1.5M626.5,533.5h1.5" stroke="#e51e10" stroke-width="1" shape-rendering="crispEdges"/>
<circle cx="627.5" cy="523.5" r="5.55" fill="#e51e10"/><path d="M627.5,517.0v1.5M627.5,528.5v1.5M621.0,523.5h1.5M632.5,523.5h1.5" stroke="#e51e10" stroke-width="1" shape-rendering="crispEdges"/>
<circle cx="674.5" cy="533.5" r="5.55" fill="#e51e10"/><path d="M674.5,527.0v1.5M674.5,538.5v1.5M668.0,533.5h1.5M679.5,533.5h1.5" stroke="#e51e10" stroke-width="1" shape-rendering="crispEdges"/>
<circle cx="680.5" cy="528.5" r="5.55" fill="#e51e10"/><path d="M680.5,522.0v1.5M680.5,533.5v1.5M674.0,528.5h1.5M685.5,528.5h1.5" stroke="#e51e10" stroke-width="1" shape-rendering="crispEdges"/>
<circle cx="727.5" cy="532.5" r="5.55" fill="#e51e10"/><path d="M727.5,526.0v1.5M727.5,537.5v1.5M721.0,532.5h1.5M732.5,532.5h1.5" stroke="#e51e10" stroke-width="1" shape-rendering="crispEdges"/>
<circle cx="733.5" cy="532.5" r="5.55" fill="#e51e10"/><path d="M733.5,526.0v1.5M733.5,537.5v1.5M727.0,532.5h1.5M738.5,532.5h1.5" stroke="#e51e10" stroke-width="1" shape-rendering="crispEdges"/>
<circle cx="780.5" cy="534.5" r="5.55" fill="#e51e10"/><path d="M780.5,528.0v1.5M780.5,539.5v1.5M774.0,534.5h1.5M785.5,534.5h1.5" stroke="#e51e10" stroke-width="1" shape-rendering="crispEdges"/>
<circle cx="786.5" cy="534.5" r="5.55" fill="#e51e10"/><path d="M786.5,528.0v1.5M786.5,539.5v1.5M780.0,534.5h1.5M791.5,534.5h1.5" stroke="#e51e10" stroke-width="1" shape-rendering="crispEdges"/>
<circle cx="833.5" cy="531.5" r="5.55" fill="#e51e10"/><path d="M833.5,525.0v1.5M833.5,536.5v1.5M827.0,531.5h1.5M838.5,531.5h1.5" stroke="#e51e10" stroke-width="1" shape-rendering="crispEdges"/>
<circle cx="840.5" cy="531.5" r="5.55" fill="#e51e10"/><path d="M840.5,525.0v1.5M840.5,536.5v1.5M834.0,531.5h1.5M845.5,531.5h1.5" stroke="#e51e10" stroke-width="1" shape-rendering="crispEdges"/>
<circle cx="886.5" cy="532.5" r="5.55" fill="#e51e10"/><path d="M886.5,526.0v1.5M886.5,537.5v1.5M880.0,532.5h1.5M891.5,532.5h1.5" stroke="#e51e10" stroke-width="1" shape-rendering="crispEdges"/>
<circle cx="893.5" cy="534.5" r="5.55" fill="#e51e10"/><path d="M893.5,528.0v1.5M893.5,539.5v1.5M887.0,534.5h1.5M898.5,534.5h1.5" stroke="#e51e10" stroke-width="1" shape-rendering="crispEdges"/>
<circle cx="940.5" cy="489.5" r="5.55" fill="#e51e10"/><path d="M940.5,483.0v1.5M940.5,494.5v1.5M934.0,489.5h1.5M945.5,489.5h1.5" stroke="#e51e10" stroke-width="1" shape-rendering="crispEdges"/>
<circle cx="946.5" cy="534.5" r="5.55" fill="#e51e10"/><path d="M946.5,528.0v1.5M946.5,539.5v1.5M940.0,534.5h1.5M951.5,534.5h1.5" stroke="#e51e10" stroke-width="1" shape-rendering="crispEdges"/>
<circle cx="993.5" cy="533.5" r="5.55" fill="#e51e10"/><path d="M993.5,527.0v1.5M993.5,538.5v1.5M987.0,533.5h1.5M998.5,533.5h1.5" stroke="#e51e10" stroke-width="1" shape-rendering="crispEdges"/>
<circle cx="999.5" cy="520.5" r="5.55" fill="#e51e10"/><path d="M999.5,514.0v1.5M999.5,525.5v1.5M993.0,520.5h1.5M1004.5,520.5h1.5" stroke="#e51e10" stroke-width="1" shape-rendering="crispEdges"/>
<circle cx="1046.5" cy="533.5" r="5.55" fill="#e51e10"/><path d="M1046.5,527.0v1.5M1046.5,538.5v1.5M1040.0,533.5h1.5M1051.5,533.5h1.5" stroke="#e51e10" stroke-width="1" shape-rendering="crispEdges"/>
<circle cx="1052.5" cy="533.5" r="5.55" fill="#e51e10"/><path d="M1052.5,527.0v1.5M1052.5,538.5v1.5M1046.0,533.5h1.5M1057.5,533.5h1.5" stroke="#e51e10" stroke-width="1" shape-rendering="crispEdges"/>
<circle cx="1099.5" cy="531.5" r="5.55" fill="#e51e10"/><path d="M1099.5,525.0v1.5M1099.5,536.5v1.5M1093.0,531.5h1.5M1104.5,531.5h1.5" stroke="#e51e10" stroke-width="1" shape-rendering="crispEdges"/>
<circle cx="1105.5" cy="534.5" r="5.55" fill="#e51e10"/><path d="M1105.5,528.0v1.5M1105.5,539.5v1.5M1099.0,534.5h1.5M1110.5,534.5h1.5" stroke="#e51e10" stroke-width="1" shape-rendering="crispEdges"/>
<circle cx="1152.5" cy="530.5" r="5.55" fill="#e51e10"/><path d="M1152.5,524.0v1.5M1152.5,535.5v1.5M1146.0,530.5h1.5M1157.5,530.5h1.5" stroke="#e51e10" stroke-width="1" shape-rendering="crispEdges"/>
<circle cx="1158.5" cy="534.5" r="5.55" fill="#e51e10"/><path d="M1158.5,528.0v1.5M1158.5,539.5v1.5M1152.0,534.5h1.5M1163.5,534.5h1.5" stroke="#e51e10" stroke-width="1" shape-rendering="crispEdges"/>
<circle cx="1205.5" cy="533.5" r="5.55" fill="#e51e10"/><path d="M1205.5,527.0v1.5M1205.5,538.5v1.5M1199.0,533.5h1.5M1210.5,533.5h1.5" stroke="#e51e10" stroke-width="1" shape-rendering="crispEdges"/>
<circle cx="1211.5" cy="486.5" r="5.55" fill="#e51e10"/><path d="M1211.5,480.0v1.5M1211.5,491.5v1.5M1205.0,486.5h1.5M1216.5,486.5h1.5" stroke="#e51e10" stroke-width="1" shape-rendering="crispEdges"/>
<circle cx="1258.5" cy="533.5" r="5.55" fill="#e51e10"/><path d="M1258.5,527.0v1.5M1258.5,538.5v1.5M1252.0,533.5h1.5M1263.5,533.5h1.5" stroke="#e51e10" stroke-width="1" shape-rendering="crispEdges"/>
<circle cx="1265.5" cy="533.5" r="5.55" fill="#e51e10"/><path d="M1265.5,527.0v1.5M1265.5,538.5v1.5M1259.0,533.5h1.5M1270.5,533.5h1.5" stroke="#e51e10" stroke-width="1" shape-rendering="crispEdges"/>
<circle cx="1311.5" cy="527.5" r="5.55" fill="#e51e10"/><path d="M1311.5,521.0v1.5M1311.5,532.5v1.5M1305.0,527.5h1.5M1316.5,527.5h1.5" stroke="#e51e10" stroke-width="1" shape-rendering="crispEdges"/>
<circle cx="1318.5" cy="532.5" r="5.55" fill="#e51e10"/><path d="M1318.5,526.0v1.5M1318.5,537.5v1.5M1312.0,532.5h1.5M1323.5,532.5h1.5" stroke="#e51e10" stroke-width="1" shape-rendering="crispEdges"/>
<circle cx="1365.5" cy="500.5" r="5.55" fill="#e51e10"/><path d="M1365.5,494.0v1.5M1365.5,505.5v1.5M1359.0,500.5h1.5M1370.5,500.5h1.5" stroke="#e51e10" stroke-width="1" shape-rendering="crispEdges"/>
<polygon points="200.5,457.5 208.4,468.5 192.6,468.5" fill="none" stroke="#000" stroke-width="1" stroke-linejoin="miter"/>
<polygon points="200.5,402.1 209.0,414.9 192.0,414.9" fill="#9400d3"/>
<path d="M194.0,372H207.0M200.5,365.5V378.5" stroke="#009e73" stroke-width="1.2" fill="none"/>
<polygon points="200.5,340.0 208.4,328.5 192.6,328.5" fill="none" stroke="#56b4e9" stroke-width="1" stroke-linejoin="miter"/>
<polygon points="200.5,359.0 208.4,347.5 192.6,347.5" fill="none" stroke="#e69f00" stroke-width="1" stroke-linejoin="miter"/>
<polygon points="86,350 155,350 147,362.7 94,362.7" fill="#e69f00"/>
<polygon points="193,350 1377,350 1367,362.7 201,362.7" fill="#e69f00"/>
<path d="M1303,73.5H1350" stroke="#9400d3" stroke-width="1.2"/>
<path d="M1303,92.5H1350" stroke="#009e73" stroke-width="1.2"/>
<path d="M1303,111.5H1350" stroke="#56b4e9" stroke-width="1.2"/>
<rect x="1320.7" y="124.60000000000001" width="11.600000000000001" height="11.600000000000001" fill="none" stroke="#e69f00" stroke-width="1.2"/>
<rect x="1320.1" y="143.1" width="12.8" height="12.8" fill="#f0e442"/>
<circle cx="1326.5" cy="168.5" r="4.95" fill="none" stroke="#0072b2" stroke-width="1.15"/><path d="M1326.5,162.0v1.5M1326.5,173.5v1.5M1320.0,168.5h1.5M1331.5,168.5h1.5" stroke="#0072b2" stroke-width="1" shape-rendering="crispEdges"/>
<circle cx="1326.5" cy="187.5" r="5.55" fill="#e51e10"/><path d="M1326.5,181.0v1.5M1326.5,192.5v1.5M1320.0,187.5h1.5M1331.5,187.5h1.5" stroke="#e51e10" stroke-width="1" shape-rendering="crispEdges"/>
<polygon points="1326.5,198.5 1334.4,209.5 1318.6,209.5" fill="none" stroke="#000" stroke-width="1" stroke-linejoin="miter"/>
<polygon points="1326.5,217.1 1335.0,229.9 1318.0,229.9" fill="#9400d3"/>
<path d="M1320.0,244.5H1333.0M1326.5,238.0V251.0" stroke="#009e73" stroke-width="1.2" fill="none"/>
<polygon points="1326.5,271.0 1334.4,259.5 1318.6,259.5" fill="none" stroke="#56b4e9" stroke-width="1" stroke-linejoin="miter"/>
<polygon points="1326.5,290.0 1334.4,278.5 1318.6,278.5" fill="none" stroke="#e69f00" stroke-width="1" stroke-linejoin="miter"/>
<path d="M94.5,57.5H1369.5V539.5H94.5Z" fill="none" stroke="#000" stroke-width="1"/>
</svg></body></html>
